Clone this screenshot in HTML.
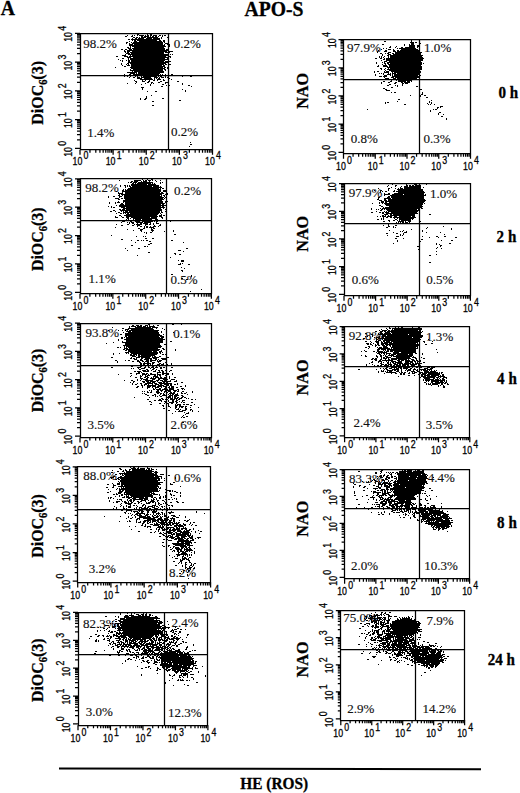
<!DOCTYPE html>
<html><head><meta charset="utf-8"><title>APO-S</title>
<style>html,body{margin:0;padding:0;background:#fff;}body{width:520px;height:793px;overflow:hidden;}svg{display:block;}</style>
</head><body>
<svg width="520" height="793" viewBox="0 0 520 793">
<rect width="520" height="793" fill="#fff"/>
<path d="M137 34h2M147 34h1M150 34h2M127 35h1M132 35h1M134 35h1M137 35h1M139 35h5M145 35h1M147 35h2M150 35h2M153 35h4M159 35h2M162 35h1M164 35h2M125 36h2M131 36h2M141 36h2M144 36h5M150 36h1M152 36h2M155 36h2M158 36h1M162 36h1M133 37h2M136 37h2M139 37h1M141 37h5M147 37h11M161 37h1M167 37h1M132 38h1M135 38h2M138 38h6M146 38h6M153 38h7M161 38h1M128 39h2M131 39h29M132 40h1M134 40h2M137 40h20M159 40h2M163 40h2M411 40h1M129 41h1M134 41h3M139 41h23M163 41h2M384 41h2M411 41h1M126 42h2M131 42h1M133 42h30M164 42h1M410 42h4M415 42h2M126 43h1M129 43h1M132 43h31M165 43h3M411 43h3M419 43h2M129 44h4M134 44h29M164 44h1M167 44h3M382 44h2M404 44h1M409 44h1M411 44h3M129 45h36M169 45h1M404 45h1M409 45h6M417 45h2M130 46h1M132 46h34M169 46h1M390 46h1M396 46h1M409 46h6M417 46h2M127 47h2M130 47h1M134 47h30M389 47h2M395 47h1M401 47h2M405 47h10M417 47h1M128 48h3M132 48h33M383 48h1M386 48h1M397 48h1M399 48h17M121 49h2M125 49h2M129 49h3M133 49h32M166 49h2M381 49h1M388 49h3M393 49h1M401 49h17M419 49h1M124 50h1M127 50h41M378 50h1M385 50h2M393 50h2M397 50h2M400 50h20M124 51h2M127 51h3M132 51h35M169 51h4M377 51h1M384 51h3M393 51h3M397 51h22M125 52h1M127 52h2M130 52h34M165 52h5M377 52h1M388 52h3M395 52h24M420 52h2M126 53h4M131 53h33M380 53h2M385 53h1M387 53h2M392 53h2M395 53h26M125 54h1M128 54h41M170 54h1M172 54h1M382 54h1M388 54h3M393 54h28M122 55h4M130 55h1M132 55h37M382 55h1M387 55h2M390 55h33M116 56h2M124 56h4M129 56h37M169 56h2M379 56h1M381 56h1M384 56h1M388 56h1M390 56h32M127 57h4M133 57h35M170 57h1M379 57h1M381 57h1M383 57h1M388 57h1M390 57h33M122 58h2M128 58h1M130 58h35M167 58h1M375 58h2M380 58h2M384 58h1M386 58h38M118 59h1M128 59h1M130 59h38M383 59h2M386 59h37M120 60h1M122 60h1M126 60h1M128 60h2M131 60h34M381 60h1M386 60h37M122 61h1M128 61h2M131 61h33M165 61h6M384 61h3M389 61h32M128 62h40M376 62h1M382 62h1M384 62h1M387 62h35M121 63h1M127 63h2M130 63h36M376 63h1M384 63h2M387 63h2M390 63h32M423 63h1M121 64h1M126 64h1M128 64h1M131 64h33M165 64h2M168 64h3M382 64h1M385 64h1M388 64h34M122 65h1M127 65h3M131 65h31M163 65h2M378 65h1M383 65h4M389 65h30M420 65h1M124 66h2M131 66h34M377 66h2M383 66h5M389 66h30M420 66h2M115 67h1M130 67h33M164 67h2M167 67h1M387 67h35M131 68h34M167 68h1M380 68h2M385 68h1M388 68h1M390 68h32M130 69h1M133 69h30M164 69h2M168 69h1M381 69h1M384 69h1M387 69h35M130 70h33M165 70h1M168 70h1M385 70h1M389 70h31M132 71h1M134 71h30M374 71h1M377 71h2M384 71h1M386 71h3M391 71h30M127 72h10M138 72h26M374 72h1M384 72h5M392 72h1M394 72h27M130 73h5M136 73h1M138 73h22M379 73h1M381 73h1M383 73h1M388 73h1M390 73h1M392 73h4M397 73h22M124 74h1M129 74h2M133 74h26M160 74h1M162 74h1M165 74h1M171 74h2M375 74h1M383 74h1M387 74h4M392 74h1M394 74h25M123 75h2M128 75h2M140 75h19M162 75h1M182 75h1M375 75h1M384 75h3M390 75h1M392 75h1M394 75h24M419 75h2M124 76h1M127 76h1M130 76h1M135 76h1M137 76h1M141 76h1M143 76h14M158 76h1M160 76h2M165 76h1M182 76h1M190 76h2M379 76h3M383 76h4M392 76h27M129 77h1M133 77h2M137 77h3M141 77h10M154 77h4M159 77h1M161 77h3M165 77h1M167 77h1M384 77h1M391 77h3M395 77h24M137 78h5M144 78h8M154 78h1M156 78h1M158 78h2M168 78h2M385 78h4M393 78h3M397 78h20M140 79h13M154 79h1M157 79h4M163 79h1M171 79h1M384 79h2M389 79h3M397 79h1M399 79h15M417 79h1M134 80h1M142 80h1M145 80h1M149 80h1M153 80h2M157 80h1M163 80h2M391 80h1M396 80h1M398 80h14M135 81h2M142 81h3M148 81h2M160 81h2M177 81h2M383 81h2M390 81h2M398 81h8M407 81h3M411 81h1M136 82h1M147 82h2M151 82h2M158 82h2M165 82h4M381 82h1M388 82h2M395 82h2M401 82h2M404 82h6M127 83h1M135 83h1M145 83h1M151 83h1M153 83h1M165 83h1M182 83h1M381 83h1M394 83h2M402 83h2M405 83h3M141 84h1M150 84h1M162 84h2M182 84h1M389 84h2M402 84h1M150 85h1M166 85h1M169 85h1M188 85h2M387 85h2M395 85h1M397 85h1M402 85h1M161 86h2M191 86h1M397 86h1M416 86h2M141 87h3M391 87h2M142 88h1M383 88h2M142 89h1M182 89h1M385 89h2M420 89h2M185 90h1M386 90h4M147 91h1M155 91h2M185 91h1M391 92h1M394 92h2M422 92h1M422 93h1M421 94h2M151 95h1M410 95h1M420 95h1M424 95h2M146 96h1M420 96h1M146 97h1M426 97h2M140 98h1M145 98h2M162 98h2M140 99h1M144 99h2M398 99h2M179 100h2M431 100h1M152 101h2M397 101h1M429 101h1M385 102h1M387 102h2M429 102h1M431 102h1M385 103h1M427 103h1M431 103h1M404 104h2M428 104h1M430 104h1M434 104h1M152 105h2M440 106h3M437 107h2M440 107h1M437 108h1M367 109h1M433 109h1M435 109h2M430 110h1M430 111h1M439 112h2M438 113h1M438 114h1M443 114h1M441 116h2M446 118h1M446 119h1M190 142h1M190 144h2M189 146h1M142 179h1M147 179h1M151 179h2M119 180h1M134 180h7M143 180h1M145 180h2M148 180h3M152 180h1M155 180h1M160 180h1M131 181h2M134 181h4M141 181h1M143 181h4M149 181h1M156 181h1M128 182h1M130 182h2M133 182h4M138 182h15M160 182h1M162 182h1M132 183h2M135 183h1M137 183h14M152 183h1M154 183h1M160 183h1M131 184h16M148 184h8M392 184h1M406 184h1M414 184h3M426 184h1M120 185h1M124 185h2M127 185h1M129 185h1M131 185h28M388 185h1M395 185h2M406 185h2M409 185h2M412 185h2M415 185h6M120 186h1M125 186h1M127 186h1M129 186h2M132 186h20M153 186h6M160 186h1M387 186h1M395 186h1M401 186h1M404 186h4M409 186h12M125 187h1M130 187h32M391 187h1M400 187h1M404 187h17M423 187h1M128 188h31M160 188h1M162 188h2M378 188h1M388 188h2M395 188h1M398 188h1M400 188h3M404 188h17M123 189h1M125 189h1M127 189h34M388 189h1M397 189h26M111 190h1M122 190h2M125 190h36M163 190h3M374 190h1M380 190h2M388 190h1M394 190h1M398 190h25M116 191h1M122 191h39M163 191h3M380 191h1M382 191h1M385 191h2M393 191h2M396 191h28M118 192h1M122 192h1M125 192h35M161 192h2M380 192h1M398 192h27M118 193h5M125 193h39M167 193h1M384 193h1M388 193h2M394 193h30M119 194h1M121 194h41M165 194h3M384 194h6M392 194h11M404 194h20M425 194h1M118 195h2M122 195h1M124 195h36M161 195h1M163 195h2M384 195h1M390 195h36M108 196h1M113 196h2M119 196h3M124 196h38M164 196h1M388 196h2M391 196h33M108 197h1M119 197h1M124 197h40M165 197h1M378 197h2M387 197h3M391 197h33M115 198h4M121 198h2M124 198h39M164 198h1M378 198h1M384 198h7M392 198h32M118 199h2M125 199h39M377 199h2M384 199h2M388 199h37M123 200h39M166 200h1M379 200h3M384 200h3M388 200h38M118 201h1M123 201h40M165 201h1M167 201h1M381 201h3M385 201h40M109 202h1M115 202h1M117 202h3M123 202h1M125 202h38M165 202h2M379 202h1M381 202h3M385 202h2M389 202h35M109 203h1M115 203h1M121 203h2M125 203h40M372 203h1M379 203h1M382 203h1M384 203h39M424 203h1M120 204h4M125 204h36M162 204h2M166 204h1M385 204h38M116 205h1M119 205h47M379 205h2M386 205h36M108 206h1M111 206h1M119 206h42M162 206h2M381 206h2M389 206h34M111 207h1M113 207h2M121 207h4M126 207h39M383 207h1M385 207h37M123 208h38M163 208h1M371 208h1M380 208h1M382 208h38M421 208h2M119 209h2M122 209h3M126 209h36M165 209h1M371 209h1M376 209h1M378 209h1M381 209h2M384 209h1M386 209h31M418 209h2M113 210h2M120 210h42M380 210h2M387 210h33M110 211h2M115 211h1M121 211h1M123 211h1M125 211h3M129 211h31M161 211h1M165 211h1M376 211h1M384 211h1M386 211h1M388 211h30M419 211h1M118 212h2M123 212h37M161 212h2M371 212h2M379 212h2M382 212h2M385 212h4M391 212h26M116 213h1M120 213h2M123 213h1M125 213h1M127 213h2M130 213h29M160 213h1M382 213h2M386 213h32M126 214h32M161 214h1M384 214h4M390 214h2M393 214h22M429 214h2M119 215h2M124 215h33M159 215h3M163 215h2M382 215h2M385 215h1M388 215h1M390 215h25M115 216h1M121 216h1M126 216h32M159 216h3M377 216h1M380 216h1M382 216h4M387 216h5M394 216h3M399 216h12M412 216h3M115 217h3M122 217h2M126 217h3M131 217h19M151 217h6M161 217h2M383 217h1M386 217h2M390 217h2M393 217h23M127 218h2M130 218h1M133 218h24M162 218h1M381 218h1M383 218h1M394 218h1M397 218h1M399 218h15M126 219h1M128 219h1M133 219h1M135 219h6M142 219h10M155 219h3M377 219h2M381 219h1M383 219h1M395 219h2M399 219h12M412 219h1M129 220h2M133 220h21M155 220h4M169 220h2M388 220h2M393 220h2M397 220h1M399 220h1M401 220h10M122 221h3M130 221h2M135 221h5M142 221h11M154 221h1M156 221h2M170 221h1M383 221h2M389 221h1M398 221h6M405 221h1M408 221h3M420 221h1M121 222h1M127 222h1M129 222h1M131 222h3M136 222h7M144 222h7M156 222h1M396 222h1M398 222h1M400 222h1M402 222h2M405 222h3M409 222h1M129 223h1M132 223h2M137 223h1M140 223h2M143 223h5M150 223h1M153 223h1M156 223h3M399 223h1M424 223h1M116 224h1M127 224h2M134 224h1M136 224h6M145 224h3M149 224h2M153 224h1M160 224h1M388 224h1M121 225h2M132 225h2M137 225h3M145 225h1M154 225h1M159 225h2M383 225h1M388 225h1M395 225h2M137 226h1M140 226h2M144 226h1M146 226h2M150 226h1M153 226h3M158 226h1M388 226h2M393 226h1M443 226h1M115 227h1M144 227h1M146 227h2M149 227h5M386 227h2M393 227h1M395 227h1M427 227h1M138 228h2M143 228h2M151 228h1M153 228h2M426 228h1M451 228h1M127 229h1M140 229h3M151 229h2M411 229h1M451 229h1M133 230h1M140 230h2M151 230h3M173 230h1M389 230h1M403 230h1M422 230h1M141 231h1M152 231h1M164 231h1M173 231h1M400 231h1M402 231h1M406 231h1M422 231h1M144 232h1M146 232h1M150 232h2M393 232h1M404 232h3M426 232h1M440 232h1M146 233h1M386 233h2M396 233h2M403 233h1M174 234h2M400 234h1M403 234h1M444 234h1M111 235h1M387 235h1M400 235h1M402 235h1M136 236h1M143 236h1M145 236h1M396 236h3M422 236h1M436 236h2M444 236h2M429 237h1M438 237h1M455 237h2M145 238h2M152 238h2M395 238h2M403 238h1M121 239h2M421 239h2M131 240h1M137 240h2M141 240h1M143 240h1M146 240h2M171 240h2M397 240h1M441 240h1M451 240h2M149 241h2M397 241h1M420 241h1M135 242h1M183 242h1M150 243h2M393 243h1M436 243h1M449 243h2M148 244h2M436 244h1M439 244h1M131 245h2M440 245h2M144 246h2M147 246h1M417 246h2M440 246h1M437 247h1M125 248h1M138 248h2M186 248h2M436 248h1M441 248h1M418 249h1M127 250h1M178 250h3M183 251h1M436 251h1M148 252h2M174 253h2M175 254h1M179 254h2M436 254h1M137 255h1M429 255h2M170 257h1M178 260h1M181 260h3M181 261h3M429 262h2M180 263h1M182 263h1M178 264h3M188 264h2M181 267h1M184 268h1M181 270h2M182 271h1M171 274h2M191 275h1M191 276h1M181 278h2M186 279h2M201 289h1M190 291h1M148 324h2M172 324h2M181 324h1M132 325h2M136 325h3M140 325h2M145 325h3M149 325h1M153 325h1M157 325h2M129 326h1M131 326h5M137 326h5M143 326h3M147 326h1M149 326h6M112 327h1M129 327h1M135 327h16M152 327h6M389 327h1M395 327h1M398 327h1M401 327h2M412 327h1M418 327h2M122 328h2M128 328h25M156 328h1M162 328h1M386 328h1M389 328h2M392 328h30M125 329h4M131 329h23M164 329h1M381 329h1M387 329h1M392 329h1M394 329h28M108 330h1M118 330h1M122 330h1M125 330h1M127 330h1M129 330h30M379 330h1M382 330h5M388 330h2M391 330h27M419 330h2M126 331h5M132 331h26M161 331h1M375 331h2M380 331h3M384 331h2M387 331h34M422 331h1M123 332h1M128 332h31M161 332h1M173 332h1M380 332h2M385 332h5M391 332h31M125 333h34M365 333h2M378 333h1M380 333h3M384 333h7M392 333h29M120 334h2M125 334h35M163 334h1M371 334h2M378 334h30M409 334h12M125 335h37M372 335h1M382 335h4M387 335h36M125 336h2M128 336h31M160 336h4M178 336h1M365 336h1M367 336h1M372 336h1M379 336h1M382 336h41M121 337h2M124 337h1M126 337h34M161 337h3M374 337h1M376 337h4M382 337h2M385 337h27M413 337h9M121 338h2M126 338h37M166 338h1M363 338h2M376 338h1M378 338h41M118 339h1M124 339h41M166 339h1M376 339h2M382 339h1M384 339h37M428 339h1M118 340h1M126 340h37M376 340h1M378 340h3M383 340h36M122 341h1M126 341h37M170 341h2M365 341h2M370 341h1M375 341h4M381 341h1M383 341h2M386 341h4M391 341h28M423 341h2M432 341h1M113 342h1M122 342h41M371 342h1M376 342h3M381 342h2M384 342h8M393 342h25M424 342h1M106 343h1M125 343h35M366 343h3M370 343h1M373 343h1M377 343h2M381 343h7M389 343h27M417 343h1M431 343h2M125 344h35M164 344h2M367 344h2M370 344h2M375 344h1M377 344h2M381 344h3M385 344h34M425 344h2M123 345h38M372 345h1M375 345h2M378 345h2M382 345h3M386 345h2M389 345h2M392 345h27M124 346h1M126 346h36M368 346h2M375 346h1M383 346h4M390 346h1M392 346h26M117 347h2M120 347h1M124 347h1M126 347h1M128 347h33M365 347h2M369 347h1M377 347h1M379 347h3M383 347h5M391 347h25M417 347h1M124 348h4M129 348h29M162 348h2M368 348h1M378 348h12M391 348h1M393 348h25M123 349h2M126 349h34M163 349h2M175 349h1M377 349h3M381 349h5M387 349h29M436 349h1M125 350h2M128 350h31M161 350h1M175 350h1M364 350h1M377 350h2M383 350h1M385 350h1M387 350h2M390 350h26M128 351h24M153 351h4M159 351h3M361 351h1M365 351h2M373 351h2M377 351h6M384 351h1M386 351h3M390 351h3M394 351h22M125 352h4M130 352h28M159 352h2M162 352h1M376 352h1M378 352h9M393 352h6M401 352h15M437 352h1M113 353h1M119 353h1M126 353h1M128 353h1M131 353h27M160 353h1M377 353h3M381 353h1M383 353h2M386 353h5M393 353h20M415 353h2M422 353h1M113 354h1M130 354h2M133 354h4M138 354h19M162 354h2M165 354h2M379 354h2M384 354h1M386 354h1M389 354h1M391 354h5M397 354h11M409 354h4M422 354h1M130 355h5M136 355h1M138 355h2M141 355h14M361 355h1M365 355h1M376 355h1M380 355h2M383 355h1M385 355h1M388 355h6M396 355h17M132 356h4M138 356h13M152 356h1M154 356h2M159 356h2M365 356h2M376 356h2M380 356h2M385 356h3M391 356h1M393 356h19M413 356h1M111 357h2M131 357h1M136 357h4M141 357h9M152 357h7M167 357h2M377 357h1M381 357h1M383 357h2M386 357h5M396 357h14M412 357h4M421 357h1M130 358h2M133 358h2M136 358h1M141 358h2M145 358h7M153 358h4M161 358h5M372 358h2M375 358h2M381 358h1M383 358h4M388 358h1M391 358h20M415 358h2M423 358h2M134 359h3M140 359h2M144 359h5M150 359h2M155 359h2M158 359h1M162 359h4M371 359h2M374 359h3M380 359h2M385 359h1M388 359h2M391 359h6M398 359h9M408 359h1M411 359h3M416 359h1M115 360h2M125 360h1M128 360h2M137 360h2M140 360h3M146 360h3M150 360h6M157 360h1M159 360h3M375 360h2M379 360h2M382 360h11M397 360h3M401 360h3M405 360h5M412 360h3M416 360h2M420 360h1M117 361h1M132 361h2M137 361h3M142 361h2M145 361h4M150 361h2M157 361h4M372 361h1M378 361h4M386 361h1M388 361h1M391 361h5M398 361h4M405 361h8M414 361h2M417 361h2M420 361h1M117 362h1M139 362h2M144 362h1M147 362h2M152 362h3M158 362h1M165 362h1M371 362h2M378 362h1M381 362h1M383 362h1M387 362h2M390 362h1M392 362h2M395 362h7M405 362h4M410 362h3M415 362h1M417 362h1M423 362h2M140 363h2M143 363h8M152 363h2M159 363h2M163 363h1M166 363h1M171 363h1M369 363h1M380 363h2M387 363h2M390 363h1M393 363h3M397 363h6M404 363h7M412 363h2M415 363h7M140 364h2M143 364h2M147 364h2M150 364h1M152 364h1M157 364h3M161 364h3M167 364h1M171 364h1M366 364h1M372 364h1M381 364h3M385 364h2M388 364h4M394 364h4M399 364h2M402 364h7M410 364h7M418 364h1M135 365h2M143 365h1M155 365h1M159 365h3M366 365h1M374 365h1M377 365h2M380 365h2M384 365h5M390 365h2M393 365h2M396 365h5M402 365h4M407 365h2M411 365h4M418 365h1M420 365h1M131 366h2M140 366h2M145 366h1M148 366h1M152 366h2M156 366h1M159 366h1M371 366h2M375 366h1M380 366h1M382 366h3M387 366h1M390 366h3M394 366h3M401 366h5M408 366h10M111 367h2M137 367h4M144 367h2M148 367h2M151 367h3M155 367h3M160 367h2M163 367h2M171 367h2M386 367h2M391 367h6M398 367h4M403 367h7M412 367h1M416 367h2M420 367h2M427 367h3M431 367h4M131 368h1M133 368h1M138 368h1M141 368h4M150 368h1M153 368h2M160 368h2M380 368h1M383 368h1M385 368h2M389 368h3M394 368h1M396 368h3M400 368h2M403 368h5M410 368h2M414 368h1M424 368h4M430 368h3M139 369h2M146 369h2M152 369h2M156 369h1M358 369h2M376 369h1M384 369h1M386 369h2M392 369h7M401 369h1M406 369h1M408 369h3M413 369h3M417 369h1M420 369h6M427 369h5M142 370h4M147 370h2M151 370h1M155 370h1M158 370h2M161 370h2M165 370h2M170 370h2M381 370h1M383 370h1M387 370h6M394 370h2M397 370h2M401 370h1M405 370h1M407 370h4M413 370h1M416 370h2M421 370h1M423 370h5M429 370h1M431 370h1M434 370h1M436 370h1M134 371h2M137 371h4M143 371h6M153 371h3M159 371h1M162 371h2M169 371h1M378 371h1M381 371h3M385 371h1M387 371h1M389 371h3M396 371h3M401 371h1M407 371h1M411 371h4M417 371h2M424 371h5M430 371h6M138 372h2M141 372h1M157 372h4M162 372h2M378 372h1M386 372h10M399 372h1M401 372h2M404 372h2M409 372h1M412 372h1M414 372h3M419 372h4M424 372h14M439 372h1M441 372h2M130 373h2M136 373h4M142 373h3M146 373h2M150 373h2M157 373h1M162 373h7M172 373h1M384 373h1M391 373h1M395 373h2M400 373h2M403 373h2M408 373h2M412 373h3M419 373h2M422 373h5M428 373h12M441 373h1M118 374h1M136 374h1M142 374h5M148 374h1M150 374h6M157 374h4M162 374h2M167 374h2M172 374h1M400 374h2M403 374h2M418 374h2M421 374h5M427 374h13M442 374h2M131 375h1M140 375h1M142 375h1M145 375h1M147 375h3M154 375h2M157 375h1M159 375h2M165 375h2M408 375h2M414 375h1M421 375h2M424 375h6M431 375h8M440 375h1M442 375h2M130 376h1M140 376h2M145 376h3M153 376h5M160 376h1M169 376h1M398 376h1M421 376h5M427 376h9M438 376h7M135 377h2M140 377h1M144 377h2M147 377h2M151 377h1M153 377h1M155 377h4M160 377h2M164 377h2M169 377h1M174 377h2M420 377h1M423 377h12M436 377h3M440 377h1M443 377h4M140 378h3M146 378h2M150 378h6M158 378h8M169 378h1M424 378h6M433 378h2M437 378h1M439 378h1M442 378h2M446 378h1M137 379h1M141 379h1M143 379h5M152 379h3M158 379h2M163 379h5M171 379h4M423 379h1M425 379h9M435 379h4M440 379h1M442 379h3M124 380h1M131 380h2M137 380h1M140 380h1M145 380h8M156 380h3M160 380h3M164 380h3M170 380h1M176 380h1M423 380h1M425 380h5M431 380h14M446 380h1M133 381h2M142 381h3M146 381h3M150 381h6M157 381h1M162 381h9M174 381h3M426 381h1M428 381h1M431 381h8M440 381h3M444 381h1M446 381h1M130 382h1M133 382h1M143 382h2M147 382h4M152 382h3M158 382h4M163 382h2M166 382h2M181 382h2M424 382h2M431 382h2M435 382h9M445 382h2M132 383h1M137 383h1M140 383h2M145 383h8M154 383h3M159 383h13M177 383h1M426 383h1M428 383h1M430 383h1M432 383h8M441 383h2M444 383h2M447 383h1M132 384h1M135 384h2M141 384h1M144 384h3M148 384h1M152 384h1M155 384h4M160 384h2M164 384h5M170 384h2M174 384h2M177 384h1M426 384h1M428 384h3M432 384h6M441 384h2M447 384h2M141 385h2M144 385h1M147 385h9M158 385h6M166 385h3M170 385h2M185 385h1M431 385h1M438 385h1M440 385h1M443 385h1M137 386h2M142 386h1M147 386h4M152 386h4M157 386h5M163 386h4M169 386h1M171 386h3M180 386h2M185 386h1M438 386h1M443 386h2M136 387h2M142 387h1M147 387h3M152 387h1M155 387h4M161 387h1M165 387h2M168 387h2M171 387h3M176 387h2M443 387h2M147 388h1M153 388h1M155 388h1M159 388h2M164 388h3M169 388h5M181 388h3M153 389h2M156 389h5M162 389h6M169 389h5M177 389h2M182 389h1M184 389h1M149 390h1M151 390h1M157 390h2M160 390h3M165 390h6M173 390h4M178 390h1M142 391h1M144 391h1M147 391h1M151 391h1M156 391h3M161 391h1M164 391h2M168 391h3M174 391h2M177 391h2M182 391h2M192 391h1M147 392h2M150 392h2M156 392h4M164 392h1M166 392h2M170 392h2M173 392h2M181 392h1M186 392h1M192 392h1M142 393h1M144 393h1M157 393h2M160 393h2M163 393h1M169 393h6M177 393h1M181 393h2M184 393h2M145 394h2M154 394h2M160 394h1M163 394h2M166 394h1M168 394h1M170 394h1M172 394h2M175 394h3M187 394h1M147 395h2M152 395h2M155 395h1M159 395h1M162 395h5M169 395h4M174 395h5M181 395h2M155 396h1M157 396h1M160 396h2M168 396h3M172 396h1M174 396h3M182 396h2M134 397h1M149 397h1M166 397h5M172 397h1M174 397h2M177 397h2M181 397h2M184 397h2M161 398h2M168 398h1M170 398h3M174 398h4M179 398h3M186 398h1M188 398h1M147 399h2M159 399h2M162 399h2M165 399h3M170 399h5M176 399h1M178 399h2M191 399h2M195 399h1M154 400h2M158 400h4M168 400h1M172 400h2M176 400h2M182 400h3M149 401h2M161 401h1M164 401h2M168 401h1M172 401h2M175 401h2M179 401h1M182 401h1M151 402h1M165 402h2M169 402h5M176 402h2M181 402h1M183 402h2M191 402h2M159 403h2M164 403h1M167 403h2M171 403h2M176 403h1M150 404h2M168 404h1M175 404h1M177 404h4M183 404h2M186 404h3M194 404h1M162 405h2M168 405h1M175 405h3M179 405h2M190 405h2M163 406h1M166 406h1M168 406h2M175 406h2M179 406h5M185 406h2M170 407h1M175 407h2M179 407h1M181 407h2M185 407h1M190 407h1M198 407h1M163 408h2M175 408h1M178 408h1M185 408h2M176 409h3M180 409h1M185 409h2M190 409h2M168 410h2M179 410h1M182 410h4M190 410h1M192 410h1M166 411h1M175 411h1M178 411h5M192 411h1M198 411h1M184 412h1M188 412h1M172 413h1M186 413h3M185 414h1M183 415h1M182 416h1M186 416h2M181 417h1M183 417h2M194 421h2M182 422h2M130 467h1M133 467h2M138 467h1M147 467h1M119 468h2M131 468h5M137 468h2M140 468h5M147 468h3M151 468h1M120 469h2M125 469h1M129 469h2M132 469h13M146 469h1M148 469h2M151 469h3M156 469h1M112 470h1M123 470h1M125 470h2M129 470h1M132 470h20M381 470h2M402 470h1M404 470h2M407 470h5M415 470h1M417 470h2M422 470h2M117 471h2M122 471h2M126 471h28M155 471h2M358 471h2M380 471h2M399 471h13M413 471h11M111 472h2M124 472h1M126 472h26M154 472h4M375 472h2M381 472h1M386 472h1M388 472h1M390 472h1M392 472h2M396 472h2M399 472h7M407 472h17M104 473h1M119 473h35M155 473h2M375 473h2M380 473h1M389 473h1M391 473h1M395 473h1M397 473h28M115 474h2M120 474h1M122 474h1M124 474h33M160 474h4M384 474h1M390 474h2M397 474h24M422 474h5M122 475h2M125 475h33M168 475h2M380 475h2M383 475h2M387 475h2M391 475h1M398 475h28M427 475h1M113 476h2M120 476h2M124 476h30M155 476h7M377 476h1M379 476h3M383 476h1M386 476h2M391 476h2M394 476h2M398 476h11M410 476h7M418 476h9M110 477h4M118 477h41M161 477h1M175 477h1M380 477h3M386 477h4M391 477h2M396 477h1M398 477h29M433 477h1M104 478h1M111 478h1M117 478h2M120 478h40M161 478h1M164 478h1M175 478h1M370 478h1M377 478h1M385 478h2M388 478h2M394 478h3M398 478h18M417 478h11M115 479h2M118 479h2M121 479h36M158 479h2M373 479h2M382 479h2M385 479h3M396 479h1M398 479h28M120 480h40M164 480h1M372 480h1M374 480h2M382 480h3M388 480h1M391 480h2M395 480h1M397 480h11M409 480h17M118 481h1M120 481h38M362 481h1M368 481h1M371 481h1M375 481h3M379 481h1M384 481h1M388 481h1M390 481h1M394 481h33M119 482h1M121 482h42M173 482h2M366 482h3M375 482h1M378 482h1M383 482h5M389 482h1M393 482h3M397 482h30M112 483h1M117 483h3M121 483h39M170 483h1M353 483h1M375 483h1M378 483h3M382 483h10M394 483h31M426 483h2M107 484h2M113 484h1M117 484h3M121 484h40M170 484h3M354 484h2M369 484h1M378 484h5M384 484h2M388 484h3M393 484h6M400 484h25M113 485h3M121 485h2M124 485h34M359 485h2M373 485h2M378 485h1M381 485h1M384 485h4M389 485h3M393 485h29M423 485h1M113 486h1M118 486h41M180 486h1M353 486h1M359 486h1M364 486h2M376 486h3M381 486h1M384 486h6M391 486h1M394 486h30M106 487h2M112 487h2M121 487h1M123 487h1M125 487h32M158 487h1M160 487h1M353 487h1M363 487h2M378 487h3M386 487h4M393 487h12M406 487h19M117 488h1M119 488h1M121 488h37M159 488h2M367 488h1M373 488h5M379 488h2M386 488h2M390 488h34M429 488h2M108 489h1M116 489h1M119 489h39M165 489h2M375 489h1M381 489h4M386 489h3M390 489h29M420 489h2M119 490h2M122 490h2M125 490h33M159 490h1M167 490h4M172 490h1M363 490h2M377 490h2M380 490h3M384 490h2M387 490h1M390 490h1M392 490h1M394 490h25M420 490h4M431 490h2M110 491h1M119 491h4M125 491h34M169 491h2M172 491h1M174 491h2M354 491h1M371 491h1M373 491h3M382 491h1M384 491h2M387 491h1M391 491h1M393 491h26M420 491h1M425 491h1M107 492h2M118 492h4M124 492h28M153 492h1M165 492h1M176 492h2M180 492h1M354 492h1M373 492h8M382 492h1M384 492h2M387 492h4M393 492h28M116 493h1M118 493h3M124 493h1M126 493h24M151 493h4M170 493h1M180 493h1M354 493h1M373 493h1M377 493h2M382 493h7M394 493h25M420 493h1M422 493h1M424 493h2M113 494h2M116 494h2M121 494h2M124 494h28M153 494h5M159 494h1M170 494h2M377 494h2M382 494h4M388 494h2M392 494h1M394 494h23M119 495h1M121 495h2M126 495h1M128 495h1M130 495h23M159 495h1M165 495h1M171 495h1M173 495h2M180 495h1M354 495h2M366 495h2M373 495h1M376 495h2M379 495h5M385 495h2M389 495h26M426 495h1M429 495h1M115 496h1M119 496h1M124 496h1M126 496h3M131 496h22M160 496h1M163 496h1M165 496h2M180 496h1M362 496h1M372 496h1M378 496h2M381 496h1M390 496h3M394 496h1M397 496h17M417 496h1M419 496h1M427 496h1M436 496h1M108 497h1M110 497h2M122 497h3M126 497h6M133 497h11M145 497h3M151 497h2M154 497h2M159 497h2M163 497h1M165 497h2M171 497h1M370 497h5M379 497h4M388 497h4M396 497h19M419 497h1M108 498h1M110 498h1M113 498h1M128 498h2M132 498h4M139 498h9M153 498h1M156 498h1M159 498h2M174 498h1M176 498h1M373 498h1M380 498h1M382 498h2M385 498h1M387 498h2M390 498h1M395 498h21M425 498h1M430 498h1M117 499h1M119 499h3M127 499h1M130 499h2M133 499h10M144 499h4M151 499h1M153 499h2M156 499h1M165 499h1M168 499h2M172 499h1M176 499h1M356 499h2M368 499h1M373 499h1M376 499h1M380 499h3M384 499h9M394 499h22M420 499h2M425 499h1M430 499h1M109 500h1M121 500h1M127 500h1M129 500h3M133 500h2M141 500h5M148 500h1M151 500h3M157 500h2M162 500h2M376 500h1M379 500h1M383 500h2M386 500h4M391 500h4M398 500h7M406 500h5M426 500h2M109 501h1M116 501h4M122 501h1M124 501h2M128 501h1M130 501h2M133 501h1M137 501h2M140 501h2M145 501h1M150 501h5M157 501h1M164 501h1M176 501h2M381 501h6M388 501h10M399 501h12M113 502h1M116 502h2M124 502h3M128 502h1M131 502h2M138 502h2M146 502h1M148 502h3M152 502h2M155 502h1M158 502h1M165 502h2M170 502h2M177 502h2M182 502h2M367 502h1M375 502h3M380 502h3M385 502h2M388 502h4M394 502h1M397 502h15M121 503h1M125 503h7M134 503h2M138 503h1M141 503h1M146 503h4M155 503h1M158 503h2M163 503h1M165 503h2M380 503h7M389 503h3M394 503h10M405 503h6M412 503h2M415 503h1M419 503h2M427 503h2M441 503h1M120 504h1M128 504h3M143 504h2M155 504h1M158 504h1M160 504h2M167 504h1M358 504h2M372 504h1M374 504h1M376 504h4M382 504h4M389 504h2M392 504h6M401 504h2M405 504h7M413 504h2M420 504h2M121 505h1M126 505h1M130 505h1M133 505h2M136 505h1M142 505h2M145 505h1M152 505h4M159 505h1M168 505h2M171 505h2M379 505h1M382 505h3M389 505h5M395 505h3M400 505h10M411 505h2M416 505h1M420 505h2M424 505h2M431 505h4M114 506h1M120 506h1M123 506h1M126 506h1M128 506h3M137 506h1M142 506h1M145 506h1M148 506h5M154 506h1M156 506h2M161 506h2M164 506h1M172 506h1M375 506h1M377 506h3M381 506h2M386 506h2M391 506h4M396 506h7M404 506h6M412 506h1M416 506h1M419 506h1M425 506h1M430 506h1M433 506h2M441 506h1M116 507h1M123 507h1M128 507h3M136 507h1M139 507h3M144 507h2M147 507h2M152 507h3M158 507h1M162 507h1M169 507h1M356 507h1M364 507h1M371 507h2M379 507h1M383 507h1M387 507h3M392 507h3M396 507h2M399 507h1M401 507h1M405 507h5M411 507h6M420 507h3M424 507h2M427 507h2M430 507h6M441 507h1M113 508h1M116 508h1M123 508h2M126 508h1M134 508h1M136 508h1M139 508h1M141 508h7M149 508h2M154 508h4M160 508h1M164 508h1M167 508h1M169 508h1M364 508h1M372 508h1M383 508h1M385 508h3M390 508h7M398 508h3M402 508h9M412 508h4M420 508h8M430 508h3M434 508h5M113 509h1M125 509h1M132 509h1M134 509h2M137 509h1M139 509h6M147 509h2M150 509h3M154 509h1M156 509h3M162 509h3M368 509h1M383 509h1M391 509h2M395 509h3M399 509h3M403 509h2M406 509h5M412 509h4M418 509h1M420 509h13M435 509h1M439 509h1M121 510h2M126 510h6M138 510h5M146 510h4M151 510h1M153 510h2M156 510h1M162 510h1M167 510h1M392 510h4M397 510h1M399 510h1M401 510h1M404 510h1M406 510h3M410 510h1M415 510h1M418 510h8M428 510h12M442 510h1M126 511h1M131 511h1M133 511h5M139 511h1M141 511h3M147 511h2M152 511h5M171 511h1M196 511h1M384 511h1M391 511h2M400 511h3M404 511h3M408 511h1M410 511h1M412 511h1M415 511h2M419 511h9M429 511h14M447 511h1M124 512h2M134 512h1M137 512h2M141 512h2M147 512h2M152 512h4M158 512h1M161 512h2M168 512h6M196 512h1M371 512h1M378 512h1M381 512h1M384 512h1M393 512h2M396 512h4M402 512h2M408 512h1M410 512h1M412 512h1M414 512h10M425 512h3M429 512h15M125 513h1M128 513h1M130 513h1M136 513h9M147 513h1M153 513h1M156 513h4M162 513h1M164 513h1M166 513h1M169 513h2M204 513h1M381 513h1M389 513h1M405 513h1M409 513h1M413 513h2M416 513h3M421 513h25M132 514h1M135 514h3M139 514h2M144 514h1M146 514h3M150 514h1M153 514h1M156 514h1M158 514h1M160 514h1M162 514h1M164 514h1M166 514h1M378 514h2M382 514h2M389 514h1M403 514h1M405 514h2M412 514h1M414 514h1M419 514h1M421 514h11M433 514h8M443 514h6M131 515h1M134 515h1M137 515h5M145 515h3M152 515h1M154 515h2M157 515h1M159 515h1M164 515h2M171 515h4M179 515h1M399 515h1M405 515h1M408 515h1M413 515h2M420 515h1M422 515h8M431 515h5M437 515h4M442 515h6M104 516h1M120 516h1M128 516h1M135 516h1M139 516h7M147 516h3M152 516h2M156 516h3M160 516h1M162 516h1M164 516h2M168 516h1M173 516h3M185 516h1M413 516h2M420 516h9M430 516h3M434 516h2M437 516h1M440 516h9M128 517h1M132 517h1M135 517h1M139 517h12M153 517h5M160 517h2M167 517h2M172 517h1M176 517h3M185 517h1M400 517h1M403 517h2M410 517h1M414 517h2M422 517h8M431 517h3M435 517h13M449 517h1M126 518h1M130 518h2M137 518h3M143 518h12M158 518h4M164 518h4M170 518h5M410 518h1M422 518h20M443 518h9M136 519h2M139 519h1M147 519h9M157 519h6M164 519h2M167 519h2M171 519h1M173 519h2M189 519h1M417 519h1M421 519h5M427 519h16M445 519h4M129 520h1M136 520h1M144 520h7M152 520h7M160 520h8M169 520h3M173 520h2M179 520h1M184 520h2M187 520h2M417 520h2M421 520h1M423 520h1M426 520h9M436 520h14M451 520h2M119 521h1M127 521h1M129 521h2M136 521h1M140 521h1M143 521h3M147 521h2M150 521h1M152 521h4M157 521h2M161 521h3M165 521h1M169 521h2M173 521h2M186 521h2M421 521h2M424 521h6M431 521h1M433 521h1M435 521h15M136 522h1M138 522h3M143 522h2M147 522h1M149 522h2M152 522h1M156 522h1M158 522h9M168 522h5M174 522h1M176 522h1M178 522h2M190 522h1M193 522h2M421 522h1M426 522h1M428 522h11M441 522h12M142 523h2M147 523h2M154 523h1M156 523h2M160 523h5M166 523h2M169 523h2M172 523h7M183 523h1M190 523h1M425 523h26M142 524h1M145 524h1M150 524h3M154 524h6M161 524h10M172 524h2M176 524h2M179 524h2M183 524h3M189 524h1M192 524h1M428 524h23M141 525h2M145 525h1M153 525h6M160 525h1M162 525h1M164 525h1M166 525h3M170 525h2M174 525h9M184 525h2M191 525h1M195 525h2M431 525h2M434 525h15M451 525h1M129 526h1M135 526h1M144 526h2M147 526h4M158 526h3M162 526h2M166 526h1M174 526h3M178 526h6M431 526h1M433 526h2M436 526h14M451 526h1M147 527h1M150 527h1M157 527h7M166 527h8M176 527h2M179 527h1M183 527h1M185 527h1M432 527h2M435 527h5M441 527h4M446 527h3M156 528h1M159 528h1M161 528h2M164 528h1M166 528h3M170 528h1M173 528h2M176 528h4M181 528h6M193 528h1M433 528h1M436 528h1M438 528h3M442 528h5M131 529h1M150 529h2M156 529h1M158 529h2M162 529h4M167 529h1M169 529h2M172 529h8M181 529h2M185 529h2M189 529h2M193 529h1M433 529h3M438 529h2M442 529h2M158 530h1M162 530h3M166 530h1M169 530h7M177 530h4M184 530h1M186 530h4M198 530h1M438 530h1M138 531h2M155 531h1M158 531h1M166 531h5M173 531h2M177 531h5M183 531h6M191 531h1M195 531h1M200 531h2M447 531h1M150 532h2M154 532h1M160 532h1M163 532h1M167 532h6M175 532h2M180 532h10M195 532h1M159 533h3M164 533h2M168 533h4M173 533h2M176 533h5M182 533h7M190 533h1M199 533h1M162 534h2M171 534h4M176 534h13M190 534h1M163 535h2M168 535h3M172 535h1M176 535h10M187 535h4M192 535h1M159 536h2M165 536h1M167 536h2M170 536h3M175 536h4M181 536h6M188 536h2M191 536h2M167 537h1M169 537h6M177 537h3M181 537h4M189 537h4M197 537h4M166 538h1M171 538h3M175 538h8M184 538h2M187 538h2M190 538h3M195 538h1M198 538h1M163 539h2M167 539h1M174 539h3M178 539h6M186 539h2M192 539h2M168 540h4M178 540h11M190 540h4M177 541h14M162 542h2M177 542h2M181 542h3M185 542h7M194 542h2M172 543h18M191 543h1M173 544h11M185 544h5M162 545h1M168 545h2M175 545h11M187 545h6M163 546h2M168 546h1M173 546h2M180 546h7M189 546h1M170 547h1M173 547h1M175 547h4M181 547h3M185 547h2M188 547h2M172 548h1M175 548h5M181 548h2M184 548h1M186 548h2M189 548h2M194 548h1M170 549h2M176 549h6M184 549h8M173 550h2M177 550h2M180 550h2M184 550h1M186 550h7M172 551h1M174 551h1M177 551h2M180 551h4M185 551h3M189 551h1M194 551h1M178 552h2M182 552h4M191 552h1M194 552h1M178 553h1M181 553h6M194 553h1M176 554h12M189 554h1M191 554h1M169 555h1M177 555h3M183 555h1M185 555h1M187 555h1M189 555h1M191 555h1M174 556h1M177 556h1M182 556h2M187 556h1M172 557h1M182 557h1M184 557h2M189 557h2M175 558h3M182 558h5M188 558h1M180 559h1M182 559h3M186 559h3M180 560h3M188 560h2M173 561h2M180 561h2M189 561h1M179 562h1M181 562h1M185 562h2M189 562h2M178 563h1M181 563h1M185 563h1M191 563h1M194 563h2M185 564h2M191 564h1M193 564h1M175 565h2M182 565h1M185 565h1M190 565h2M193 565h1M182 566h1M185 566h1M189 566h1M192 566h1M185 567h2M189 567h3M194 567h1M185 568h1M187 568h4M193 568h2M187 569h1M190 569h1M183 570h2M188 570h2M181 571h1M188 571h1M183 572h1M187 572h1M179 573h2M192 573h1M187 574h1M187 575h1M181 576h1M188 578h1M375 612h1M381 612h2M385 612h1M389 612h2M120 613h1M127 613h1M131 613h1M134 613h1M143 613h1M146 613h1M371 613h1M381 613h1M384 613h2M120 614h1M131 614h1M136 614h3M141 614h3M145 614h2M149 614h2M374 614h1M376 614h2M380 614h2M383 614h1M386 614h3M125 615h3M129 615h5M138 615h3M142 615h2M145 615h2M149 615h2M152 615h1M369 615h3M374 615h6M381 615h1M384 615h1M388 615h2M105 616h2M115 616h1M118 616h1M124 616h5M131 616h19M155 616h2M365 616h2M369 616h1M371 616h5M377 616h1M388 616h4M394 616h3M408 616h1M412 616h1M118 617h1M124 617h34M366 617h1M370 617h3M374 617h1M377 617h5M383 617h3M388 617h1M399 617h1M402 617h1M404 617h1M406 617h1M408 617h2M120 618h5M126 618h34M364 618h1M366 618h1M368 618h13M382 618h1M384 618h2M388 618h1M390 618h1M397 618h1M400 618h1M402 618h8M411 618h1M115 619h2M120 619h34M156 619h1M365 619h1M370 619h2M374 619h2M377 619h1M379 619h3M383 619h3M388 619h2M397 619h2M400 619h12M414 619h2M118 620h3M123 620h37M366 620h2M371 620h1M373 620h7M382 620h1M384 620h1M386 620h4M395 620h20M112 621h1M115 621h2M119 621h39M159 621h3M164 621h1M167 621h1M371 621h6M378 621h1M380 621h2M384 621h1M387 621h2M392 621h27M120 622h43M371 622h2M374 622h3M378 622h1M380 622h5M387 622h2M392 622h25M418 622h2M103 623h1M110 623h1M112 623h1M115 623h6M122 623h35M158 623h4M164 623h1M360 623h2M366 623h4M374 623h1M376 623h3M380 623h2M383 623h1M385 623h4M390 623h1M392 623h29M114 624h1M117 624h2M120 624h40M168 624h1M364 624h2M369 624h1M375 624h2M378 624h1M380 624h6M390 624h30M105 625h4M114 625h1M117 625h2M120 625h40M162 625h2M367 625h1M372 625h2M375 625h2M381 625h3M386 625h3M390 625h30M112 626h4M117 626h3M121 626h41M164 626h2M362 626h2M368 626h1M371 626h3M375 626h4M380 626h1M382 626h7M390 626h29M98 627h1M100 627h1M109 627h1M112 627h3M118 627h43M162 627h2M165 627h5M175 627h1M372 627h1M374 627h5M381 627h2M387 627h3M391 627h29M103 628h2M107 628h1M115 628h1M117 628h49M168 628h1M177 628h2M359 628h2M375 628h1M380 628h2M387 628h2M390 628h28M106 629h1M118 629h3M122 629h35M158 629h1M161 629h1M163 629h1M172 629h1M174 629h3M180 629h2M185 629h1M372 629h1M378 629h2M381 629h1M385 629h1M387 629h4M392 629h30M97 630h1M100 630h1M104 630h1M109 630h1M117 630h44M162 630h2M171 630h3M365 630h1M372 630h1M374 630h5M383 630h2M386 630h4M393 630h27M97 631h1M108 631h2M111 631h2M114 631h2M119 631h1M123 631h40M165 631h2M170 631h2M173 631h1M175 631h2M179 631h2M370 631h1M372 631h1M374 631h1M376 631h3M382 631h3M386 631h31M418 631h4M110 632h3M116 632h2M119 632h2M122 632h41M166 632h1M172 632h2M179 632h2M368 632h2M373 632h2M376 632h3M382 632h1M384 632h1M388 632h1M390 632h28M108 633h1M116 633h47M166 633h1M174 633h2M178 633h1M361 633h2M364 633h1M368 633h1M372 633h3M377 633h2M382 633h1M384 633h31M417 633h1M95 634h2M113 634h2M116 634h1M118 634h2M121 634h1M123 634h36M160 634h4M165 634h3M174 634h1M176 634h1M187 634h2M366 634h2M370 634h1M372 634h2M377 634h6M386 634h5M392 634h22M420 634h1M98 635h2M102 635h2M107 635h1M109 635h1M113 635h5M120 635h34M155 635h2M158 635h1M161 635h3M166 635h2M171 635h2M178 635h1M187 635h1M369 635h2M378 635h4M385 635h8M394 635h1M396 635h12M409 635h3M413 635h1M420 635h1M90 636h2M97 636h2M103 636h1M106 636h3M110 636h2M113 636h1M116 636h10M128 636h25M155 636h3M161 636h5M168 636h1M171 636h2M174 636h2M359 636h1M366 636h1M375 636h1M377 636h3M383 636h3M387 636h16M404 636h2M407 636h1M409 636h1M411 636h2M110 637h2M118 637h2M121 637h6M129 637h23M153 637h1M156 637h2M159 637h3M164 637h5M173 637h2M176 637h2M180 637h1M186 637h1M365 637h1M371 637h2M374 637h1M377 637h5M383 637h1M385 637h9M395 637h14M410 637h2M413 637h1M415 637h1M418 637h3M89 638h1M104 638h1M107 638h2M110 638h1M115 638h6M123 638h2M126 638h1M128 638h1M130 638h2M133 638h8M142 638h9M152 638h3M156 638h1M158 638h2M161 638h1M165 638h1M167 638h3M171 638h9M365 638h1M371 638h2M375 638h2M378 638h1M380 638h11M393 638h1M395 638h1M397 638h7M405 638h5M412 638h2M96 639h1M103 639h2M109 639h1M119 639h2M122 639h2M125 639h2M128 639h3M132 639h14M149 639h3M153 639h2M156 639h1M158 639h5M164 639h1M166 639h2M169 639h5M176 639h3M182 639h1M370 639h2M373 639h3M381 639h3M385 639h6M393 639h1M395 639h12M409 639h5M417 639h1M419 639h1M95 640h2M98 640h1M107 640h3M116 640h4M123 640h1M125 640h3M129 640h7M137 640h1M140 640h3M144 640h2M147 640h2M150 640h3M154 640h3M158 640h3M162 640h6M173 640h2M177 640h1M364 640h1M371 640h5M377 640h11M390 640h2M393 640h15M409 640h6M95 641h2M98 641h1M109 641h1M112 641h2M118 641h1M120 641h2M125 641h3M129 641h1M131 641h3M135 641h2M139 641h9M151 641h3M155 641h1M159 641h1M164 641h3M169 641h1M171 641h1M173 641h1M176 641h1M182 641h2M379 641h3M386 641h3M390 641h13M404 641h8M414 641h1M423 641h2M111 642h1M113 642h1M117 642h3M121 642h3M125 642h1M127 642h1M129 642h3M133 642h3M138 642h2M141 642h2M144 642h2M149 642h1M151 642h3M155 642h1M157 642h1M159 642h3M163 642h1M169 642h5M175 642h2M183 642h1M185 642h2M368 642h1M374 642h2M377 642h1M382 642h6M389 642h2M392 642h1M394 642h3M398 642h11M411 642h4M418 642h1M427 642h2M109 643h2M113 643h3M119 643h1M121 643h1M123 643h2M127 643h1M129 643h9M139 643h3M143 643h2M146 643h7M155 643h1M157 643h3M162 643h2M167 643h2M170 643h1M174 643h2M180 643h2M370 643h1M380 643h6M387 643h3M392 643h5M398 643h4M403 643h6M410 643h5M418 643h1M435 643h2M110 644h1M112 644h1M115 644h1M117 644h5M123 644h8M134 644h4M140 644h4M145 644h13M159 644h3M166 644h5M175 644h1M178 644h2M193 644h1M358 644h2M366 644h1M371 644h2M379 644h1M382 644h4M387 644h3M391 644h16M408 644h2M412 644h1M414 644h1M418 644h1M422 644h1M429 644h1M108 645h1M115 645h3M120 645h1M122 645h2M125 645h2M128 645h4M133 645h7M141 645h7M150 645h1M152 645h5M159 645h3M164 645h1M166 645h1M168 645h2M172 645h3M176 645h2M193 645h1M376 645h1M378 645h4M383 645h1M386 645h4M391 645h14M406 645h5M412 645h3M416 645h1M420 645h1M422 645h1M429 645h5M435 645h1M112 646h2M117 646h3M121 646h8M130 646h5M136 646h6M144 646h1M146 646h8M156 646h3M160 646h1M162 646h4M167 646h2M171 646h1M176 646h2M187 646h1M366 646h1M371 646h1M379 646h1M382 646h7M390 646h1M392 646h3M396 646h11M409 646h2M412 646h3M416 646h4M421 646h8M430 646h2M433 646h2M437 646h1M441 646h1M111 647h1M117 647h2M121 647h1M124 647h1M127 647h1M129 647h5M136 647h3M140 647h1M143 647h2M146 647h3M151 647h12M165 647h3M169 647h2M186 647h2M374 647h1M376 647h1M379 647h2M383 647h3M387 647h9M397 647h15M413 647h2M417 647h7M425 647h5M440 647h1M113 648h1M121 648h3M132 648h2M138 648h2M142 648h3M147 648h4M152 648h2M156 648h4M161 648h5M167 648h2M170 648h1M172 648h2M186 648h1M372 648h2M375 648h1M378 648h1M382 648h1M384 648h1M386 648h1M388 648h2M392 648h2M395 648h3M399 648h3M403 648h3M407 648h1M409 648h5M415 648h3M419 648h2M422 648h10M435 648h2M113 649h1M121 649h3M126 649h1M128 649h2M134 649h1M137 649h1M139 649h1M141 649h2M144 649h3M148 649h3M152 649h1M155 649h8M166 649h2M169 649h1M171 649h1M173 649h2M178 649h2M185 649h2M372 649h4M379 649h2M382 649h2M386 649h1M392 649h1M395 649h6M402 649h6M409 649h1M411 649h21M433 649h1M438 649h1M104 650h1M119 650h2M126 650h2M129 650h1M135 650h3M139 650h1M143 650h10M154 650h6M161 650h2M167 650h5M175 650h5M192 650h1M194 650h2M376 650h2M379 650h1M383 650h1M387 650h4M392 650h6M399 650h8M410 650h18M429 650h1M431 650h5M437 650h2M440 650h2M95 651h2M117 651h1M119 651h1M121 651h2M127 651h1M129 651h2M143 651h4M148 651h6M159 651h2M163 651h1M165 651h3M169 651h12M183 651h1M189 651h2M363 651h1M378 651h2M383 651h1M385 651h2M392 651h2M398 651h3M402 651h1M405 651h3M409 651h19M429 651h7M438 651h4M443 651h1M117 652h3M130 652h1M132 652h2M136 652h3M142 652h1M144 652h5M150 652h1M152 652h3M158 652h2M161 652h1M164 652h12M177 652h6M184 652h1M187 652h2M370 652h1M376 652h2M379 652h2M386 652h2M391 652h1M394 652h1M398 652h7M407 652h2M411 652h9M422 652h7M430 652h6M437 652h4M443 652h1M94 653h2M118 653h1M126 653h3M134 653h1M138 653h1M141 653h7M149 653h1M151 653h2M154 653h5M160 653h4M165 653h13M179 653h4M184 653h5M361 653h2M369 653h1M385 653h2M388 653h3M394 653h2M397 653h4M402 653h1M404 653h1M407 653h22M431 653h4M436 653h5M126 654h1M130 654h1M134 654h1M136 654h1M143 654h1M147 654h1M152 654h3M159 654h2M162 654h10M173 654h9M183 654h5M376 654h1M392 654h1M394 654h8M404 654h1M409 654h2M412 654h15M428 654h13M442 654h3M109 655h2M118 655h2M125 655h1M130 655h3M135 655h2M141 655h1M147 655h2M150 655h1M154 655h2M157 655h2M160 655h27M188 655h2M392 655h1M396 655h7M406 655h5M412 655h7M420 655h23M136 656h3M143 656h1M147 656h3M152 656h2M156 656h2M159 656h1M161 656h18M180 656h11M192 656h1M372 656h4M389 656h1M396 656h3M406 656h1M411 656h10M422 656h2M425 656h17M443 656h2M447 656h2M133 657h2M136 657h1M138 657h1M142 657h2M145 657h2M149 657h2M152 657h2M156 657h1M158 657h6M165 657h27M373 657h2M389 657h2M393 657h2M401 657h1M403 657h3M407 657h1M411 657h2M414 657h29M128 658h2M136 658h1M141 658h3M150 658h4M156 658h1M160 658h34M395 658h1M397 658h1M405 658h3M409 658h1M413 658h27M441 658h1M444 658h3M127 659h2M130 659h2M139 659h1M154 659h1M156 659h2M159 659h1M161 659h32M367 659h2M390 659h2M396 659h1M407 659h1M409 659h1M411 659h2M414 659h25M440 659h4M125 660h1M135 660h1M142 660h2M147 660h2M151 660h1M154 660h1M157 660h3M161 660h30M192 660h2M381 660h1M390 660h1M394 660h2M399 660h1M401 660h1M410 660h3M414 660h11M426 660h18M445 660h1M125 661h1M143 661h2M146 661h2M154 661h3M161 661h10M172 661h22M195 661h2M397 661h2M404 661h1M412 661h3M417 661h26M141 662h1M147 662h3M154 662h4M159 662h1M161 662h2M165 662h1M167 662h27M195 662h1M397 662h1M399 662h1M412 662h1M414 662h26M442 662h2M122 663h1M148 663h1M153 663h2M161 663h7M169 663h3M173 663h23M414 663h1M421 663h9M431 663h9M155 664h2M160 664h12M173 664h5M179 664h15M378 664h1M407 664h2M415 664h1M418 664h2M423 664h2M426 664h13M160 665h22M183 665h8M193 665h4M411 665h2M415 665h1M421 665h7M429 665h5M435 665h3M137 666h1M148 666h2M162 666h2M165 666h22M188 666h2M193 666h1M202 666h1M424 666h1M426 666h2M430 666h4M435 666h2M145 667h2M148 667h1M157 667h1M162 667h2M166 667h4M172 667h18M192 667h1M195 667h1M426 667h1M428 667h2M431 667h2M435 667h1M141 668h2M150 668h1M157 668h2M163 668h2M166 668h2M171 668h10M182 668h11M195 668h3M428 668h2M157 669h1M159 669h2M165 669h2M168 669h3M172 669h9M182 669h1M184 669h4M192 669h1M156 670h2M166 670h4M172 670h4M177 670h10M188 670h1M430 670h1M167 671h1M174 671h5M180 671h5M186 671h2M190 671h2M198 671h1M175 672h3M180 672h1M185 672h1M188 672h2M198 672h1M424 672h2M157 673h1M176 673h1M181 673h7M141 674h1M169 674h1M174 674h1M181 674h1M183 674h5M190 674h4M141 675h1M169 675h2M173 675h2M179 675h3M183 675h3M187 675h1M205 675h1M421 675h1M172 676h1M179 676h1M182 676h1M187 676h1M205 676h1M164 677h1M179 677h2M183 677h1M187 677h1M191 677h2M172 678h1M193 678h1M178 679h1M180 679h1M182 679h1M193 679h1M169 680h1M177 680h2M180 680h4M186 680h2M189 680h1M165 682h1M196 682h2M165 683h1M184 684h1M173 685h1M187 685h2" stroke="#000" stroke-width="1" fill="none" shape-rendering="crispEdges" transform="translate(0 0.5)"/>
<path d="M80.5 33.5H212.5V149.5H80.5ZM80.5 75.5H212.5M168.5 33.5V149.5M80.5 178.5H211.5V293.5H80.5ZM80.5 220.5H211.5M166.5 178.5V293.5M80.5 323.5H211.5V437.5H80.5ZM80.5 365.5H211.5M166.5 323.5V437.5M77.5 466.5H210.5V582.5H77.5ZM77.5 509.5H210.5M166.5 466.5V582.5M78.5 612.5H207.5V725.5H78.5ZM78.5 654.5H207.5M164.5 612.5V725.5M343.5 39.5H470.5V153.5H343.5ZM343.5 79.5H470.5M419.5 39.5V153.5M344.5 183.5H470.5V295.5H344.5ZM344.5 223.5H470.5M419.5 183.5V295.5M344.5 326.5H469.5V437.5H344.5ZM344.5 366.5H469.5M419.5 326.5V437.5M344.5 469.5H469.5V578.5H344.5ZM344.5 508.5H469.5M419.5 469.5V578.5M340.5 610.5H464.5V720.5H340.5ZM340.5 649.5H464.5M415.5 610.5V720.5" stroke="#000" stroke-width="1.25" fill="none"/>
<path d="M80 149.8v5M80 148.4h-5M89.97 149.8v3M80 139.75h-3M95.8 149.8v3M80 134.68h-3M99.94 149.8v3M80 131.09h-3M103.15 149.8v3M80 128.3h-3M105.78 149.8v3M80 126.03h-3M107.99 149.8v3M80 124.1h-3M109.91 149.8v3M80 122.44h-3M111.61 149.8v3M80 120.97h-3M113.12 149.8v5M80 119.65h-5M123.1 149.8v3M80 111h-3M128.93 149.8v3M80 105.93h-3M133.07 149.8v3M80 102.34h-3M136.28 149.8v3M80 99.55h-3M138.9 149.8v3M80 97.28h-3M141.12 149.8v3M80 95.35h-3M143.04 149.8v3M80 93.69h-3M144.73 149.8v3M80 92.22h-3M146.25 149.8v5M80 90.9h-5M156.22 149.8v3M80 82.25h-3M162.05 149.8v3M80 77.18h-3M166.19 149.8v3M80 73.59h-3M169.4 149.8v3M80 70.8h-3M172.03 149.8v3M80 68.53h-3M174.24 149.8v3M80 66.6h-3M176.16 149.8v3M80 64.94h-3M177.86 149.8v3M80 63.47h-3M179.38 149.8v5M80 62.15h-5M189.35 149.8v3M80 53.5h-3M195.18 149.8v3M80 48.43h-3M199.32 149.8v3M80 44.84h-3M202.53 149.8v3M80 42.05h-3M205.15 149.8v3M80 39.78h-3M207.37 149.8v3M80 37.85h-3M209.29 149.8v3M80 36.19h-3M210.98 149.8v3M80 34.72h-3M212.5 149.8v5M80 33.4h-5M80 293.7v5M80 292.3h-5M89.89 293.7v3M80 283.76h-3M95.67 293.7v3M80 278.76h-3M99.78 293.7v3M80 275.22h-3M102.96 293.7v3M80 272.47h-3M105.56 293.7v3M80 270.22h-3M107.76 293.7v3M80 268.32h-3M109.67 293.7v3M80 266.67h-3M111.35 293.7v3M80 265.22h-3M112.85 293.7v5M80 263.93h-5M122.74 293.7v3M80 255.38h-3M128.52 293.7v3M80 250.39h-3M132.63 293.7v3M80 246.84h-3M135.81 293.7v3M80 244.09h-3M138.41 293.7v3M80 241.84h-3M140.61 293.7v3M80 239.95h-3M142.52 293.7v3M80 238.3h-3M144.2 293.7v3M80 236.85h-3M145.7 293.7v5M80 235.55h-5M155.59 293.7v3M80 227.01h-3M161.37 293.7v3M80 222.01h-3M165.48 293.7v3M80 218.47h-3M168.66 293.7v3M80 215.72h-3M171.26 293.7v3M80 213.47h-3M173.46 293.7v3M80 211.57h-3M175.37 293.7v3M80 209.92h-3M177.05 293.7v3M80 208.47h-3M178.55 293.7v5M80 207.18h-5M188.44 293.7v3M80 198.63h-3M194.22 293.7v3M80 193.64h-3M198.33 293.7v3M80 190.09h-3M201.51 293.7v3M80 187.34h-3M204.11 293.7v3M80 185.09h-3M206.31 293.7v3M80 183.2h-3M208.22 293.7v3M80 181.55h-3M209.9 293.7v3M80 180.1h-3M211.4 293.7v5M80 178.8h-5M80 437.5v5M80 436.1h-5M89.87 437.5v3M80 427.6h-3M95.64 437.5v3M80 422.63h-3M99.73 437.5v3M80 419.11h-3M102.91 437.5v3M80 416.37h-3M105.5 437.5v3M80 414.14h-3M107.7 437.5v3M80 412.25h-3M109.6 437.5v3M80 410.61h-3M111.28 437.5v3M80 409.17h-3M112.78 437.5v5M80 407.88h-5M122.64 437.5v3M80 399.38h-3M128.41 437.5v3M80 394.41h-3M132.51 437.5v3M80 390.88h-3M135.68 437.5v3M80 388.15h-3M138.28 437.5v3M80 385.91h-3M140.47 437.5v3M80 384.02h-3M142.37 437.5v3M80 382.39h-3M144.05 437.5v3M80 380.94h-3M145.55 437.5v5M80 379.65h-5M155.42 437.5v3M80 371.15h-3M161.19 437.5v3M80 366.18h-3M165.28 437.5v3M80 362.66h-3M168.46 437.5v3M80 359.92h-3M171.05 437.5v3M80 357.69h-3M173.25 437.5v3M80 355.8h-3M175.15 437.5v3M80 354.16h-3M176.83 437.5v3M80 352.72h-3M178.32 437.5v5M80 351.43h-5M188.19 437.5v3M80 342.93h-3M193.96 437.5v3M80 337.96h-3M198.06 437.5v3M80 334.43h-3M201.23 437.5v3M80 331.7h-3M203.83 437.5v3M80 329.46h-3M206.02 437.5v3M80 327.57h-3M207.92 437.5v3M80 325.94h-3M209.6 437.5v3M80 324.49h-3M211.1 437.5v5M80 323.2h-5M77.7 582.5v5M77.7 581.1h-5M87.7 582.5v3M77.7 572.5h-3M93.55 582.5v3M77.7 567.47h-3M97.7 582.5v3M77.7 563.9h-3M100.92 582.5v3M77.7 561.13h-3M103.55 582.5v3M77.7 558.86h-3M105.78 582.5v3M77.7 556.95h-3M107.71 582.5v3M77.7 555.29h-3M109.4 582.5v3M77.7 553.83h-3M110.92 582.5v5M77.7 552.52h-5M120.93 582.5v3M77.7 543.92h-3M126.78 582.5v3M77.7 538.89h-3M130.93 582.5v3M77.7 535.32h-3M134.15 582.5v3M77.7 532.55h-3M136.78 582.5v3M77.7 530.29h-3M139 582.5v3M77.7 528.38h-3M140.93 582.5v3M77.7 526.72h-3M142.63 582.5v3M77.7 525.26h-3M144.15 582.5v5M77.7 523.95h-5M154.15 582.5v3M77.7 515.35h-3M160 582.5v3M77.7 510.32h-3M164.15 582.5v3M77.7 506.75h-3M167.37 582.5v3M77.7 503.98h-3M170 582.5v3M77.7 501.71h-3M172.23 582.5v3M77.7 499.8h-3M174.16 582.5v3M77.7 498.14h-3M175.85 582.5v3M77.7 496.68h-3M177.38 582.5v5M77.7 495.38h-5M187.38 582.5v3M77.7 486.77h-3M193.23 582.5v3M77.7 481.74h-3M197.38 582.5v3M77.7 478.17h-3M200.6 582.5v3M77.7 475.4h-3M203.23 582.5v3M77.7 473.14h-3M205.45 582.5v3M77.7 471.23h-3M207.38 582.5v3M77.7 469.57h-3M209.08 582.5v3M77.7 468.11h-3M210.6 582.5v5M77.7 466.8h-5M78 725.3v5M78 723.9h-5M87.78 725.3v3M78 715.51h-3M93.49 725.3v3M78 710.6h-3M97.55 725.3v3M78 707.12h-3M100.7 725.3v3M78 704.42h-3M103.27 725.3v3M78 702.21h-3M105.44 725.3v3M78 700.34h-3M107.33 725.3v3M78 698.73h-3M108.99 725.3v3M78 697.3h-3M110.47 725.3v5M78 696.02h-5M120.25 725.3v3M78 687.63h-3M125.97 725.3v3M78 682.73h-3M130.03 725.3v3M78 679.24h-3M133.17 725.3v3M78 676.54h-3M135.75 725.3v3M78 674.33h-3M137.92 725.3v3M78 672.47h-3M139.8 725.3v3M78 670.85h-3M141.46 725.3v3M78 669.43h-3M142.95 725.3v5M78 668.15h-5M152.73 725.3v3M78 659.76h-3M158.44 725.3v3M78 654.85h-3M162.5 725.3v3M78 651.37h-3M165.65 725.3v3M78 648.67h-3M168.22 725.3v3M78 646.46h-3M170.39 725.3v3M78 644.59h-3M172.28 725.3v3M78 642.98h-3M173.94 725.3v3M78 641.55h-3M175.43 725.3v5M78 640.27h-5M185.2 725.3v3M78 631.88h-3M190.92 725.3v3M78 626.98h-3M194.98 725.3v3M78 623.49h-3M198.12 725.3v3M78 620.79h-3M200.7 725.3v3M78 618.58h-3M202.87 725.3v3M78 616.72h-3M204.75 725.3v3M78 615.1h-3M206.41 725.3v3M78 613.68h-3M207.9 725.3v5M78 612.4h-5M343.5 153.7v5M343.5 152.3h-5M353.06 153.7v3M343.5 143.82h-3M358.65 153.7v3M343.5 138.86h-3M362.62 153.7v3M343.5 135.34h-3M365.69 153.7v3M343.5 132.61h-3M368.21 153.7v3M343.5 130.38h-3M370.33 153.7v3M343.5 128.49h-3M372.17 153.7v3M343.5 126.86h-3M373.8 153.7v3M343.5 125.41h-3M375.25 153.7v5M343.5 124.12h-5M384.81 153.7v3M343.5 115.64h-3M390.4 153.7v3M343.5 110.68h-3M394.37 153.7v3M343.5 107.16h-3M397.44 153.7v3M343.5 104.43h-3M399.96 153.7v3M343.5 102.2h-3M402.08 153.7v3M343.5 100.31h-3M403.92 153.7v3M343.5 98.68h-3M405.55 153.7v3M343.5 97.24h-3M407 153.7v5M343.5 95.95h-5M416.56 153.7v3M343.5 87.47h-3M422.15 153.7v3M343.5 82.51h-3M426.12 153.7v3M343.5 78.99h-3M429.19 153.7v3M343.5 76.26h-3M431.71 153.7v3M343.5 74.03h-3M433.83 153.7v3M343.5 72.14h-3M435.67 153.7v3M343.5 70.51h-3M437.3 153.7v3M343.5 69.06h-3M438.75 153.7v5M343.5 67.77h-5M448.31 153.7v3M343.5 59.29h-3M453.9 153.7v3M343.5 54.33h-3M457.87 153.7v3M343.5 50.81h-3M460.94 153.7v3M343.5 48.08h-3M463.46 153.7v3M343.5 45.85h-3M465.58 153.7v3M343.5 43.96h-3M467.42 153.7v3M343.5 42.33h-3M469.05 153.7v3M343.5 40.89h-3M470.5 153.7v5M343.5 39.6h-5M344 295.7v5M344 294.3h-5M353.51 295.7v3M344 285.97h-3M359.08 295.7v3M344 281.1h-3M363.03 295.7v3M344 277.64h-3M366.09 295.7v3M344 274.96h-3M368.59 295.7v3M344 272.76h-3M370.71 295.7v3M344 270.91h-3M372.54 295.7v3M344 269.31h-3M374.15 295.7v3M344 267.89h-3M375.6 295.7v5M344 266.62h-5M385.11 295.7v3M344 258.29h-3M390.68 295.7v3M344 253.42h-3M394.63 295.7v3M344 249.96h-3M397.69 295.7v3M344 247.28h-3M400.19 295.7v3M344 245.09h-3M402.31 295.7v3M344 243.24h-3M404.14 295.7v3M344 241.63h-3M405.75 295.7v3M344 240.22h-3M407.2 295.7v5M344 238.95h-5M416.71 295.7v3M344 230.62h-3M422.28 295.7v3M344 225.75h-3M426.23 295.7v3M344 222.29h-3M429.29 295.7v3M344 219.61h-3M431.79 295.7v3M344 217.41h-3M433.91 295.7v3M344 215.56h-3M435.74 295.7v3M344 213.96h-3M437.35 295.7v3M344 212.54h-3M438.8 295.7v5M344 211.28h-5M448.31 295.7v3M344 202.94h-3M453.88 295.7v3M344 198.07h-3M457.83 295.7v3M344 194.61h-3M460.89 295.7v3M344 191.93h-3M463.39 295.7v3M344 189.74h-3M465.51 295.7v3M344 187.89h-3M467.34 295.7v3M344 186.28h-3M468.95 295.7v3M344 184.87h-3M470.4 295.7v5M344 183.6h-5M344.6 437.3v5M344.6 435.9h-5M354.02 437.3v3M344.6 427.67h-3M359.53 437.3v3M344.6 422.86h-3M363.44 437.3v3M344.6 419.45h-3M366.48 437.3v3M344.6 416.8h-3M368.96 437.3v3M344.6 414.64h-3M371.05 437.3v3M344.6 412.81h-3M372.87 437.3v3M344.6 411.22h-3M374.47 437.3v3M344.6 409.83h-3M375.9 437.3v5M344.6 408.58h-5M385.32 437.3v3M344.6 400.35h-3M390.83 437.3v3M344.6 395.54h-3M394.74 437.3v3M344.6 392.12h-3M397.78 437.3v3M344.6 389.48h-3M400.26 437.3v3M344.6 387.31h-3M402.35 437.3v3M344.6 385.48h-3M404.17 437.3v3M344.6 383.9h-3M405.77 437.3v3M344.6 382.5h-3M407.2 437.3v5M344.6 381.25h-5M416.62 437.3v3M344.6 373.02h-3M422.13 437.3v3M344.6 368.21h-3M426.04 437.3v3M344.6 364.8h-3M429.08 437.3v3M344.6 362.15h-3M431.56 437.3v3M344.6 359.99h-3M433.65 437.3v3M344.6 358.16h-3M435.47 437.3v3M344.6 356.57h-3M437.07 437.3v3M344.6 355.18h-3M438.5 437.3v5M344.6 353.93h-5M447.92 437.3v3M344.6 345.7h-3M453.43 437.3v3M344.6 340.89h-3M457.34 437.3v3M344.6 337.47h-3M460.38 437.3v3M344.6 334.83h-3M462.86 437.3v3M344.6 332.66h-3M464.95 437.3v3M344.6 330.83h-3M466.77 437.3v3M344.6 329.25h-3M468.37 437.3v3M344.6 327.85h-3M469.8 437.3v5M344.6 326.6h-5M344.6 578.7v5M344.6 577.3h-5M354.01 578.7v3M344.6 569.19h-3M359.51 578.7v3M344.6 564.44h-3M363.41 578.7v3M344.6 561.07h-3M366.44 578.7v3M344.6 558.46h-3M368.92 578.7v3M344.6 556.33h-3M371.01 578.7v3M344.6 554.52h-3M372.82 578.7v3M344.6 552.96h-3M374.42 578.7v3M344.6 551.58h-3M375.85 578.7v5M344.6 550.35h-5M385.26 578.7v3M344.6 542.24h-3M390.76 578.7v3M344.6 537.49h-3M394.66 578.7v3M344.6 534.12h-3M397.69 578.7v3M344.6 531.51h-3M400.17 578.7v3M344.6 529.38h-3M402.26 578.7v3M344.6 527.57h-3M404.07 578.7v3M344.6 526.01h-3M405.67 578.7v3M344.6 524.63h-3M407.1 578.7v5M344.6 523.4h-5M416.51 578.7v3M344.6 515.29h-3M422.01 578.7v3M344.6 510.54h-3M425.91 578.7v3M344.6 507.17h-3M428.94 578.7v3M344.6 504.56h-3M431.42 578.7v3M344.6 502.43h-3M433.51 578.7v3M344.6 500.62h-3M435.32 578.7v3M344.6 499.06h-3M436.92 578.7v3M344.6 497.68h-3M438.35 578.7v5M344.6 496.45h-5M447.76 578.7v3M344.6 488.34h-3M453.26 578.7v3M344.6 483.59h-3M457.16 578.7v3M344.6 480.22h-3M460.19 578.7v3M344.6 477.61h-3M462.67 578.7v3M344.6 475.48h-3M464.76 578.7v3M344.6 473.67h-3M466.57 578.7v3M344.6 472.11h-3M468.17 578.7v3M344.6 470.73h-3M469.6 578.7v5M344.6 469.5h-5M340.8 720.3v5M340.8 718.9h-5M350.12 720.3v3M340.8 710.75h-3M355.57 720.3v3M340.8 705.98h-3M359.43 720.3v3M340.8 702.6h-3M362.43 720.3v3M340.8 699.98h-3M364.88 720.3v3M340.8 697.83h-3M366.96 720.3v3M340.8 696.02h-3M368.75 720.3v3M340.8 694.45h-3M370.33 720.3v3M340.8 693.06h-3M371.75 720.3v5M340.8 691.83h-5M381.07 720.3v3M340.8 683.67h-3M386.52 720.3v3M340.8 678.91h-3M390.38 720.3v3M340.8 675.52h-3M393.38 720.3v3M340.8 672.9h-3M395.83 720.3v3M340.8 670.76h-3M397.91 720.3v3M340.8 668.94h-3M399.7 720.3v3M340.8 667.37h-3M401.28 720.3v3M340.8 665.99h-3M402.7 720.3v5M340.8 664.75h-5M412.02 720.3v3M340.8 656.6h-3M417.47 720.3v3M340.8 651.83h-3M421.33 720.3v3M340.8 648.45h-3M424.33 720.3v3M340.8 645.83h-3M426.78 720.3v3M340.8 643.68h-3M428.86 720.3v3M340.8 641.87h-3M430.65 720.3v3M340.8 640.3h-3M432.23 720.3v3M340.8 638.91h-3M433.65 720.3v5M340.8 637.67h-5M442.97 720.3v3M340.8 629.52h-3M448.42 720.3v3M340.8 624.76h-3M452.28 720.3v3M340.8 621.37h-3M455.28 720.3v3M340.8 618.75h-3M457.73 720.3v3M340.8 616.61h-3M459.81 720.3v3M340.8 614.79h-3M461.6 720.3v3M340.8 613.22h-3M463.18 720.3v3M340.8 611.84h-3M464.6 720.3v5M340.8 610.6h-5" stroke="#000" stroke-width="1.25" fill="none"/>
<path d="M59 768.4L481 769.2" stroke="#000" stroke-width="2"/>
<text transform="translate(80.5 165.4) scale(0.8 1)" text-anchor="middle" font-family='"Liberation Sans", sans-serif' font-size="11" stroke="#000" stroke-width="0.3">10<tspan dx="1.5" dy="-6">0</tspan></text>
<text transform="translate(72 148.9) rotate(-90) scale(0.8 1)" text-anchor="middle" font-family='"Liberation Sans", sans-serif' font-size="11" stroke="#000" stroke-width="0.3">10<tspan dx="1.5" dy="-6">0</tspan></text>
<text transform="translate(113.62 165.4) scale(0.8 1)" text-anchor="middle" font-family='"Liberation Sans", sans-serif' font-size="11" stroke="#000" stroke-width="0.3">10<tspan dx="1.5" dy="-6">1</tspan></text>
<text transform="translate(72 120.15) rotate(-90) scale(0.8 1)" text-anchor="middle" font-family='"Liberation Sans", sans-serif' font-size="11" stroke="#000" stroke-width="0.3">10<tspan dx="1.5" dy="-6">1</tspan></text>
<text transform="translate(146.75 165.4) scale(0.8 1)" text-anchor="middle" font-family='"Liberation Sans", sans-serif' font-size="11" stroke="#000" stroke-width="0.3">10<tspan dx="1.5" dy="-6">2</tspan></text>
<text transform="translate(72 91.4) rotate(-90) scale(0.8 1)" text-anchor="middle" font-family='"Liberation Sans", sans-serif' font-size="11" stroke="#000" stroke-width="0.3">10<tspan dx="1.5" dy="-6">2</tspan></text>
<text transform="translate(179.88 165.4) scale(0.8 1)" text-anchor="middle" font-family='"Liberation Sans", sans-serif' font-size="11" stroke="#000" stroke-width="0.3">10<tspan dx="1.5" dy="-6">3</tspan></text>
<text transform="translate(72 62.65) rotate(-90) scale(0.8 1)" text-anchor="middle" font-family='"Liberation Sans", sans-serif' font-size="11" stroke="#000" stroke-width="0.3">10<tspan dx="1.5" dy="-6">3</tspan></text>
<text transform="translate(213 165.4) scale(0.8 1)" text-anchor="middle" font-family='"Liberation Sans", sans-serif' font-size="11" stroke="#000" stroke-width="0.3">10<tspan dx="1.5" dy="-6">4</tspan></text>
<text transform="translate(72 33.9) rotate(-90) scale(0.8 1)" text-anchor="middle" font-family='"Liberation Sans", sans-serif' font-size="11" stroke="#000" stroke-width="0.3">10<tspan dx="1.5" dy="-6">4</tspan></text>
<text transform="translate(83.3 47.7) scale(0.98 1)" font-family='"Liberation Serif", serif' font-size="13.3" fill="#111" stroke="#111" stroke-width="0.15">98.2%</text>
<text transform="translate(173.8 47.7) scale(0.98 1)" font-family='"Liberation Serif", serif' font-size="13.3" fill="#111" stroke="#111" stroke-width="0.15">0.2%</text>
<text transform="translate(87.3 137.1) scale(0.98 1)" font-family='"Liberation Serif", serif' font-size="13.3" fill="#111" stroke="#111" stroke-width="0.15">1.4%</text>
<text transform="translate(170.9 136.2) scale(0.98 1)" font-family='"Liberation Serif", serif' font-size="13.3" fill="#111" stroke="#111" stroke-width="0.15">0.2%</text>
<text transform="translate(80.5 310.4) scale(0.8 1)" text-anchor="middle" font-family='"Liberation Sans", sans-serif' font-size="11" stroke="#000" stroke-width="0.3">10<tspan dx="1.5" dy="-6">0</tspan></text>
<text transform="translate(72 292.8) rotate(-90) scale(0.8 1)" text-anchor="middle" font-family='"Liberation Sans", sans-serif' font-size="11" stroke="#000" stroke-width="0.3">10<tspan dx="1.5" dy="-6">0</tspan></text>
<text transform="translate(113.35 310.4) scale(0.8 1)" text-anchor="middle" font-family='"Liberation Sans", sans-serif' font-size="11" stroke="#000" stroke-width="0.3">10<tspan dx="1.5" dy="-6">1</tspan></text>
<text transform="translate(72 264.43) rotate(-90) scale(0.8 1)" text-anchor="middle" font-family='"Liberation Sans", sans-serif' font-size="11" stroke="#000" stroke-width="0.3">10<tspan dx="1.5" dy="-6">1</tspan></text>
<text transform="translate(146.2 310.4) scale(0.8 1)" text-anchor="middle" font-family='"Liberation Sans", sans-serif' font-size="11" stroke="#000" stroke-width="0.3">10<tspan dx="1.5" dy="-6">2</tspan></text>
<text transform="translate(72 236.05) rotate(-90) scale(0.8 1)" text-anchor="middle" font-family='"Liberation Sans", sans-serif' font-size="11" stroke="#000" stroke-width="0.3">10<tspan dx="1.5" dy="-6">2</tspan></text>
<text transform="translate(179.05 310.4) scale(0.8 1)" text-anchor="middle" font-family='"Liberation Sans", sans-serif' font-size="11" stroke="#000" stroke-width="0.3">10<tspan dx="1.5" dy="-6">3</tspan></text>
<text transform="translate(72 207.68) rotate(-90) scale(0.8 1)" text-anchor="middle" font-family='"Liberation Sans", sans-serif' font-size="11" stroke="#000" stroke-width="0.3">10<tspan dx="1.5" dy="-6">3</tspan></text>
<text transform="translate(211.9 310.4) scale(0.8 1)" text-anchor="middle" font-family='"Liberation Sans", sans-serif' font-size="11" stroke="#000" stroke-width="0.3">10<tspan dx="1.5" dy="-6">4</tspan></text>
<text transform="translate(72 179.3) rotate(-90) scale(0.8 1)" text-anchor="middle" font-family='"Liberation Sans", sans-serif' font-size="11" stroke="#000" stroke-width="0.3">10<tspan dx="1.5" dy="-6">4</tspan></text>
<text transform="translate(85.3 192.2) scale(0.98 1)" font-family='"Liberation Serif", serif' font-size="13.3" fill="#111" stroke="#111" stroke-width="0.15">98.2%</text>
<text transform="translate(173.9 194.5) scale(0.98 1)" font-family='"Liberation Serif", serif' font-size="13.3" fill="#111" stroke="#111" stroke-width="0.15">0.2%</text>
<text transform="translate(88.6 282.9) scale(0.98 1)" font-family='"Liberation Serif", serif' font-size="13.3" fill="#111" stroke="#111" stroke-width="0.15">1.1%</text>
<text transform="translate(170.4 283.5) scale(0.98 1)" font-family='"Liberation Serif", serif' font-size="13.3" fill="#111" stroke="#111" stroke-width="0.15">0.5%</text>
<text transform="translate(80.5 454.2) scale(0.8 1)" text-anchor="middle" font-family='"Liberation Sans", sans-serif' font-size="11" stroke="#000" stroke-width="0.3">10<tspan dx="1.5" dy="-6">0</tspan></text>
<text transform="translate(72 436.6) rotate(-90) scale(0.8 1)" text-anchor="middle" font-family='"Liberation Sans", sans-serif' font-size="11" stroke="#000" stroke-width="0.3">10<tspan dx="1.5" dy="-6">0</tspan></text>
<text transform="translate(113.28 454.2) scale(0.8 1)" text-anchor="middle" font-family='"Liberation Sans", sans-serif' font-size="11" stroke="#000" stroke-width="0.3">10<tspan dx="1.5" dy="-6">1</tspan></text>
<text transform="translate(72 408.38) rotate(-90) scale(0.8 1)" text-anchor="middle" font-family='"Liberation Sans", sans-serif' font-size="11" stroke="#000" stroke-width="0.3">10<tspan dx="1.5" dy="-6">1</tspan></text>
<text transform="translate(146.05 454.2) scale(0.8 1)" text-anchor="middle" font-family='"Liberation Sans", sans-serif' font-size="11" stroke="#000" stroke-width="0.3">10<tspan dx="1.5" dy="-6">2</tspan></text>
<text transform="translate(72 380.15) rotate(-90) scale(0.8 1)" text-anchor="middle" font-family='"Liberation Sans", sans-serif' font-size="11" stroke="#000" stroke-width="0.3">10<tspan dx="1.5" dy="-6">2</tspan></text>
<text transform="translate(178.82 454.2) scale(0.8 1)" text-anchor="middle" font-family='"Liberation Sans", sans-serif' font-size="11" stroke="#000" stroke-width="0.3">10<tspan dx="1.5" dy="-6">3</tspan></text>
<text transform="translate(72 351.93) rotate(-90) scale(0.8 1)" text-anchor="middle" font-family='"Liberation Sans", sans-serif' font-size="11" stroke="#000" stroke-width="0.3">10<tspan dx="1.5" dy="-6">3</tspan></text>
<text transform="translate(211.6 454.2) scale(0.8 1)" text-anchor="middle" font-family='"Liberation Sans", sans-serif' font-size="11" stroke="#000" stroke-width="0.3">10<tspan dx="1.5" dy="-6">4</tspan></text>
<text transform="translate(72 323.7) rotate(-90) scale(0.8 1)" text-anchor="middle" font-family='"Liberation Sans", sans-serif' font-size="11" stroke="#000" stroke-width="0.3">10<tspan dx="1.5" dy="-6">4</tspan></text>
<text transform="translate(85.5 336.6) scale(0.98 1)" font-family='"Liberation Serif", serif' font-size="13.3" fill="#111" stroke="#111" stroke-width="0.15">93.8%</text>
<text transform="translate(173.3 338.1) scale(0.98 1)" font-family='"Liberation Serif", serif' font-size="13.3" fill="#111" stroke="#111" stroke-width="0.15">0.1%</text>
<text transform="translate(87.4 429.1) scale(0.98 1)" font-family='"Liberation Serif", serif' font-size="13.3" fill="#111" stroke="#111" stroke-width="0.15">3.5%</text>
<text transform="translate(170.5 429.3) scale(0.98 1)" font-family='"Liberation Serif", serif' font-size="13.3" fill="#111" stroke="#111" stroke-width="0.15">2.6%</text>
<text transform="translate(78.2 599.2) scale(0.8 1)" text-anchor="middle" font-family='"Liberation Sans", sans-serif' font-size="11" stroke="#000" stroke-width="0.3">10<tspan dx="1.5" dy="-6">0</tspan></text>
<text transform="translate(69.7 581.6) rotate(-90) scale(0.8 1)" text-anchor="middle" font-family='"Liberation Sans", sans-serif' font-size="11" stroke="#000" stroke-width="0.3">10<tspan dx="1.5" dy="-6">0</tspan></text>
<text transform="translate(111.42 599.2) scale(0.8 1)" text-anchor="middle" font-family='"Liberation Sans", sans-serif' font-size="11" stroke="#000" stroke-width="0.3">10<tspan dx="1.5" dy="-6">1</tspan></text>
<text transform="translate(69.7 553.02) rotate(-90) scale(0.8 1)" text-anchor="middle" font-family='"Liberation Sans", sans-serif' font-size="11" stroke="#000" stroke-width="0.3">10<tspan dx="1.5" dy="-6">1</tspan></text>
<text transform="translate(144.65 599.2) scale(0.8 1)" text-anchor="middle" font-family='"Liberation Sans", sans-serif' font-size="11" stroke="#000" stroke-width="0.3">10<tspan dx="1.5" dy="-6">2</tspan></text>
<text transform="translate(69.7 524.45) rotate(-90) scale(0.8 1)" text-anchor="middle" font-family='"Liberation Sans", sans-serif' font-size="11" stroke="#000" stroke-width="0.3">10<tspan dx="1.5" dy="-6">2</tspan></text>
<text transform="translate(177.88 599.2) scale(0.8 1)" text-anchor="middle" font-family='"Liberation Sans", sans-serif' font-size="11" stroke="#000" stroke-width="0.3">10<tspan dx="1.5" dy="-6">3</tspan></text>
<text transform="translate(69.7 495.88) rotate(-90) scale(0.8 1)" text-anchor="middle" font-family='"Liberation Sans", sans-serif' font-size="11" stroke="#000" stroke-width="0.3">10<tspan dx="1.5" dy="-6">3</tspan></text>
<text transform="translate(211.1 599.2) scale(0.8 1)" text-anchor="middle" font-family='"Liberation Sans", sans-serif' font-size="11" stroke="#000" stroke-width="0.3">10<tspan dx="1.5" dy="-6">4</tspan></text>
<text transform="translate(69.7 467.3) rotate(-90) scale(0.8 1)" text-anchor="middle" font-family='"Liberation Sans", sans-serif' font-size="11" stroke="#000" stroke-width="0.3">10<tspan dx="1.5" dy="-6">4</tspan></text>
<text transform="translate(83.3 480.4) scale(0.98 1)" font-family='"Liberation Serif", serif' font-size="13.3" fill="#111" stroke="#111" stroke-width="0.15">88.0%</text>
<text transform="translate(173.9 481.7) scale(0.98 1)" font-family='"Liberation Serif", serif' font-size="13.3" fill="#111" stroke="#111" stroke-width="0.15">0.6%</text>
<text transform="translate(88.7 573.3) scale(0.98 1)" font-family='"Liberation Serif", serif' font-size="13.3" fill="#111" stroke="#111" stroke-width="0.15">3.2%</text>
<text transform="translate(168.9 577.1) scale(0.98 1)" font-family='"Liberation Serif", serif' font-size="13.3" fill="#111" stroke="#111" stroke-width="0.15">8.2%</text>
<text transform="translate(78.5 742) scale(0.8 1)" text-anchor="middle" font-family='"Liberation Sans", sans-serif' font-size="11" stroke="#000" stroke-width="0.3">10<tspan dx="1.5" dy="-6">0</tspan></text>
<text transform="translate(70 724.4) rotate(-90) scale(0.8 1)" text-anchor="middle" font-family='"Liberation Sans", sans-serif' font-size="11" stroke="#000" stroke-width="0.3">10<tspan dx="1.5" dy="-6">0</tspan></text>
<text transform="translate(110.97 742) scale(0.8 1)" text-anchor="middle" font-family='"Liberation Sans", sans-serif' font-size="11" stroke="#000" stroke-width="0.3">10<tspan dx="1.5" dy="-6">1</tspan></text>
<text transform="translate(70 696.52) rotate(-90) scale(0.8 1)" text-anchor="middle" font-family='"Liberation Sans", sans-serif' font-size="11" stroke="#000" stroke-width="0.3">10<tspan dx="1.5" dy="-6">1</tspan></text>
<text transform="translate(143.45 742) scale(0.8 1)" text-anchor="middle" font-family='"Liberation Sans", sans-serif' font-size="11" stroke="#000" stroke-width="0.3">10<tspan dx="1.5" dy="-6">2</tspan></text>
<text transform="translate(70 668.65) rotate(-90) scale(0.8 1)" text-anchor="middle" font-family='"Liberation Sans", sans-serif' font-size="11" stroke="#000" stroke-width="0.3">10<tspan dx="1.5" dy="-6">2</tspan></text>
<text transform="translate(175.93 742) scale(0.8 1)" text-anchor="middle" font-family='"Liberation Sans", sans-serif' font-size="11" stroke="#000" stroke-width="0.3">10<tspan dx="1.5" dy="-6">3</tspan></text>
<text transform="translate(70 640.77) rotate(-90) scale(0.8 1)" text-anchor="middle" font-family='"Liberation Sans", sans-serif' font-size="11" stroke="#000" stroke-width="0.3">10<tspan dx="1.5" dy="-6">3</tspan></text>
<text transform="translate(208.4 742) scale(0.8 1)" text-anchor="middle" font-family='"Liberation Sans", sans-serif' font-size="11" stroke="#000" stroke-width="0.3">10<tspan dx="1.5" dy="-6">4</tspan></text>
<text transform="translate(70 612.9) rotate(-90) scale(0.8 1)" text-anchor="middle" font-family='"Liberation Sans", sans-serif' font-size="11" stroke="#000" stroke-width="0.3">10<tspan dx="1.5" dy="-6">4</tspan></text>
<text transform="translate(82.9 627.5) scale(0.98 1)" font-family='"Liberation Serif", serif' font-size="13.3" fill="#111" stroke="#111" stroke-width="0.15">82.3%</text>
<text transform="translate(171.5 627.3) scale(0.98 1)" font-family='"Liberation Serif", serif' font-size="13.3" fill="#111" stroke="#111" stroke-width="0.15">2.4%</text>
<text transform="translate(85.8 716) scale(0.98 1)" font-family='"Liberation Serif", serif' font-size="13.3" fill="#111" stroke="#111" stroke-width="0.15">3.0%</text>
<text transform="translate(167.9 717.1) scale(0.98 1)" font-family='"Liberation Serif", serif' font-size="13.3" fill="#111" stroke="#111" stroke-width="0.15">12.3%</text>
<text transform="translate(344 170.4) scale(0.8 1)" text-anchor="middle" font-family='"Liberation Sans", sans-serif' font-size="11" stroke="#000" stroke-width="0.3">10<tspan dx="1.5" dy="-6">0</tspan></text>
<text transform="translate(335.5 152.8) rotate(-90) scale(0.8 1)" text-anchor="middle" font-family='"Liberation Sans", sans-serif' font-size="11" stroke="#000" stroke-width="0.3">10<tspan dx="1.5" dy="-6">0</tspan></text>
<text transform="translate(375.75 170.4) scale(0.8 1)" text-anchor="middle" font-family='"Liberation Sans", sans-serif' font-size="11" stroke="#000" stroke-width="0.3">10<tspan dx="1.5" dy="-6">1</tspan></text>
<text transform="translate(335.5 124.62) rotate(-90) scale(0.8 1)" text-anchor="middle" font-family='"Liberation Sans", sans-serif' font-size="11" stroke="#000" stroke-width="0.3">10<tspan dx="1.5" dy="-6">1</tspan></text>
<text transform="translate(407.5 170.4) scale(0.8 1)" text-anchor="middle" font-family='"Liberation Sans", sans-serif' font-size="11" stroke="#000" stroke-width="0.3">10<tspan dx="1.5" dy="-6">2</tspan></text>
<text transform="translate(335.5 96.45) rotate(-90) scale(0.8 1)" text-anchor="middle" font-family='"Liberation Sans", sans-serif' font-size="11" stroke="#000" stroke-width="0.3">10<tspan dx="1.5" dy="-6">2</tspan></text>
<text transform="translate(439.25 170.4) scale(0.8 1)" text-anchor="middle" font-family='"Liberation Sans", sans-serif' font-size="11" stroke="#000" stroke-width="0.3">10<tspan dx="1.5" dy="-6">3</tspan></text>
<text transform="translate(335.5 68.27) rotate(-90) scale(0.8 1)" text-anchor="middle" font-family='"Liberation Sans", sans-serif' font-size="11" stroke="#000" stroke-width="0.3">10<tspan dx="1.5" dy="-6">3</tspan></text>
<text transform="translate(471 170.4) scale(0.8 1)" text-anchor="middle" font-family='"Liberation Sans", sans-serif' font-size="11" stroke="#000" stroke-width="0.3">10<tspan dx="1.5" dy="-6">4</tspan></text>
<text transform="translate(335.5 40.1) rotate(-90) scale(0.8 1)" text-anchor="middle" font-family='"Liberation Sans", sans-serif' font-size="11" stroke="#000" stroke-width="0.3">10<tspan dx="1.5" dy="-6">4</tspan></text>
<text transform="translate(347.1 52.1) scale(0.98 1)" font-family='"Liberation Serif", serif' font-size="13.3" fill="#111" stroke="#111" stroke-width="0.15">97.9%</text>
<text transform="translate(424.1 52.3) scale(0.98 1)" font-family='"Liberation Serif", serif' font-size="13.3" fill="#111" stroke="#111" stroke-width="0.15">1.0%</text>
<text transform="translate(350.7 142.5) scale(0.98 1)" font-family='"Liberation Serif", serif' font-size="13.3" fill="#111" stroke="#111" stroke-width="0.15">0.8%</text>
<text transform="translate(423.5 143.1) scale(0.98 1)" font-family='"Liberation Serif", serif' font-size="13.3" fill="#111" stroke="#111" stroke-width="0.15">0.3%</text>
<text transform="translate(344.5 312.4) scale(0.8 1)" text-anchor="middle" font-family='"Liberation Sans", sans-serif' font-size="11" stroke="#000" stroke-width="0.3">10<tspan dx="1.5" dy="-6">0</tspan></text>
<text transform="translate(336 294.8) rotate(-90) scale(0.8 1)" text-anchor="middle" font-family='"Liberation Sans", sans-serif' font-size="11" stroke="#000" stroke-width="0.3">10<tspan dx="1.5" dy="-6">0</tspan></text>
<text transform="translate(376.1 312.4) scale(0.8 1)" text-anchor="middle" font-family='"Liberation Sans", sans-serif' font-size="11" stroke="#000" stroke-width="0.3">10<tspan dx="1.5" dy="-6">1</tspan></text>
<text transform="translate(336 267.12) rotate(-90) scale(0.8 1)" text-anchor="middle" font-family='"Liberation Sans", sans-serif' font-size="11" stroke="#000" stroke-width="0.3">10<tspan dx="1.5" dy="-6">1</tspan></text>
<text transform="translate(407.7 312.4) scale(0.8 1)" text-anchor="middle" font-family='"Liberation Sans", sans-serif' font-size="11" stroke="#000" stroke-width="0.3">10<tspan dx="1.5" dy="-6">2</tspan></text>
<text transform="translate(336 239.45) rotate(-90) scale(0.8 1)" text-anchor="middle" font-family='"Liberation Sans", sans-serif' font-size="11" stroke="#000" stroke-width="0.3">10<tspan dx="1.5" dy="-6">2</tspan></text>
<text transform="translate(439.3 312.4) scale(0.8 1)" text-anchor="middle" font-family='"Liberation Sans", sans-serif' font-size="11" stroke="#000" stroke-width="0.3">10<tspan dx="1.5" dy="-6">3</tspan></text>
<text transform="translate(336 211.78) rotate(-90) scale(0.8 1)" text-anchor="middle" font-family='"Liberation Sans", sans-serif' font-size="11" stroke="#000" stroke-width="0.3">10<tspan dx="1.5" dy="-6">3</tspan></text>
<text transform="translate(470.9 312.4) scale(0.8 1)" text-anchor="middle" font-family='"Liberation Sans", sans-serif' font-size="11" stroke="#000" stroke-width="0.3">10<tspan dx="1.5" dy="-6">4</tspan></text>
<text transform="translate(336 184.1) rotate(-90) scale(0.8 1)" text-anchor="middle" font-family='"Liberation Sans", sans-serif' font-size="11" stroke="#000" stroke-width="0.3">10<tspan dx="1.5" dy="-6">4</tspan></text>
<text transform="translate(348.7 197.1) scale(0.98 1)" font-family='"Liberation Serif", serif' font-size="13.3" fill="#111" stroke="#111" stroke-width="0.15">97.9%</text>
<text transform="translate(429.9 198) scale(0.98 1)" font-family='"Liberation Serif", serif' font-size="13.3" fill="#111" stroke="#111" stroke-width="0.15">1.0%</text>
<text transform="translate(351.7 284.3) scale(0.98 1)" font-family='"Liberation Serif", serif' font-size="13.3" fill="#111" stroke="#111" stroke-width="0.15">0.6%</text>
<text transform="translate(426.2 284.3) scale(0.98 1)" font-family='"Liberation Serif", serif' font-size="13.3" fill="#111" stroke="#111" stroke-width="0.15">0.5%</text>
<text transform="translate(345.1 454) scale(0.8 1)" text-anchor="middle" font-family='"Liberation Sans", sans-serif' font-size="11" stroke="#000" stroke-width="0.3">10<tspan dx="1.5" dy="-6">0</tspan></text>
<text transform="translate(336.6 436.4) rotate(-90) scale(0.8 1)" text-anchor="middle" font-family='"Liberation Sans", sans-serif' font-size="11" stroke="#000" stroke-width="0.3">10<tspan dx="1.5" dy="-6">0</tspan></text>
<text transform="translate(376.4 454) scale(0.8 1)" text-anchor="middle" font-family='"Liberation Sans", sans-serif' font-size="11" stroke="#000" stroke-width="0.3">10<tspan dx="1.5" dy="-6">1</tspan></text>
<text transform="translate(336.6 409.08) rotate(-90) scale(0.8 1)" text-anchor="middle" font-family='"Liberation Sans", sans-serif' font-size="11" stroke="#000" stroke-width="0.3">10<tspan dx="1.5" dy="-6">1</tspan></text>
<text transform="translate(407.7 454) scale(0.8 1)" text-anchor="middle" font-family='"Liberation Sans", sans-serif' font-size="11" stroke="#000" stroke-width="0.3">10<tspan dx="1.5" dy="-6">2</tspan></text>
<text transform="translate(336.6 381.75) rotate(-90) scale(0.8 1)" text-anchor="middle" font-family='"Liberation Sans", sans-serif' font-size="11" stroke="#000" stroke-width="0.3">10<tspan dx="1.5" dy="-6">2</tspan></text>
<text transform="translate(439 454) scale(0.8 1)" text-anchor="middle" font-family='"Liberation Sans", sans-serif' font-size="11" stroke="#000" stroke-width="0.3">10<tspan dx="1.5" dy="-6">3</tspan></text>
<text transform="translate(336.6 354.43) rotate(-90) scale(0.8 1)" text-anchor="middle" font-family='"Liberation Sans", sans-serif' font-size="11" stroke="#000" stroke-width="0.3">10<tspan dx="1.5" dy="-6">3</tspan></text>
<text transform="translate(470.3 454) scale(0.8 1)" text-anchor="middle" font-family='"Liberation Sans", sans-serif' font-size="11" stroke="#000" stroke-width="0.3">10<tspan dx="1.5" dy="-6">4</tspan></text>
<text transform="translate(336.6 327.1) rotate(-90) scale(0.8 1)" text-anchor="middle" font-family='"Liberation Sans", sans-serif' font-size="11" stroke="#000" stroke-width="0.3">10<tspan dx="1.5" dy="-6">4</tspan></text>
<text transform="translate(348.7 340.4) scale(0.98 1)" font-family='"Liberation Serif", serif' font-size="13.3" fill="#111" stroke="#111" stroke-width="0.15">92.8%</text>
<text transform="translate(426.1 341.2) scale(0.98 1)" font-family='"Liberation Serif", serif' font-size="13.3" fill="#111" stroke="#111" stroke-width="0.15">1.3%</text>
<text transform="translate(353.5 427.3) scale(0.98 1)" font-family='"Liberation Serif", serif' font-size="13.3" fill="#111" stroke="#111" stroke-width="0.15">2.4%</text>
<text transform="translate(425.8 429.3) scale(0.98 1)" font-family='"Liberation Serif", serif' font-size="13.3" fill="#111" stroke="#111" stroke-width="0.15">3.5%</text>
<text transform="translate(345.1 595.4) scale(0.8 1)" text-anchor="middle" font-family='"Liberation Sans", sans-serif' font-size="11" stroke="#000" stroke-width="0.3">10<tspan dx="1.5" dy="-6">0</tspan></text>
<text transform="translate(336.6 577.8) rotate(-90) scale(0.8 1)" text-anchor="middle" font-family='"Liberation Sans", sans-serif' font-size="11" stroke="#000" stroke-width="0.3">10<tspan dx="1.5" dy="-6">0</tspan></text>
<text transform="translate(376.35 595.4) scale(0.8 1)" text-anchor="middle" font-family='"Liberation Sans", sans-serif' font-size="11" stroke="#000" stroke-width="0.3">10<tspan dx="1.5" dy="-6">1</tspan></text>
<text transform="translate(336.6 550.85) rotate(-90) scale(0.8 1)" text-anchor="middle" font-family='"Liberation Sans", sans-serif' font-size="11" stroke="#000" stroke-width="0.3">10<tspan dx="1.5" dy="-6">1</tspan></text>
<text transform="translate(407.6 595.4) scale(0.8 1)" text-anchor="middle" font-family='"Liberation Sans", sans-serif' font-size="11" stroke="#000" stroke-width="0.3">10<tspan dx="1.5" dy="-6">2</tspan></text>
<text transform="translate(336.6 523.9) rotate(-90) scale(0.8 1)" text-anchor="middle" font-family='"Liberation Sans", sans-serif' font-size="11" stroke="#000" stroke-width="0.3">10<tspan dx="1.5" dy="-6">2</tspan></text>
<text transform="translate(438.85 595.4) scale(0.8 1)" text-anchor="middle" font-family='"Liberation Sans", sans-serif' font-size="11" stroke="#000" stroke-width="0.3">10<tspan dx="1.5" dy="-6">3</tspan></text>
<text transform="translate(336.6 496.95) rotate(-90) scale(0.8 1)" text-anchor="middle" font-family='"Liberation Sans", sans-serif' font-size="11" stroke="#000" stroke-width="0.3">10<tspan dx="1.5" dy="-6">3</tspan></text>
<text transform="translate(470.1 595.4) scale(0.8 1)" text-anchor="middle" font-family='"Liberation Sans", sans-serif' font-size="11" stroke="#000" stroke-width="0.3">10<tspan dx="1.5" dy="-6">4</tspan></text>
<text transform="translate(336.6 470) rotate(-90) scale(0.8 1)" text-anchor="middle" font-family='"Liberation Sans", sans-serif' font-size="11" stroke="#000" stroke-width="0.3">10<tspan dx="1.5" dy="-6">4</tspan></text>
<text transform="translate(349.1 483.3) scale(0.98 1)" font-family='"Liberation Serif", serif' font-size="13.3" fill="#111" stroke="#111" stroke-width="0.15">83.3%</text>
<text transform="translate(427.8 481.5) scale(0.98 1)" font-family='"Liberation Serif", serif' font-size="13.3" fill="#111" stroke="#111" stroke-width="0.15">4.4%</text>
<text transform="translate(350.9 569.9) scale(0.98 1)" font-family='"Liberation Serif", serif' font-size="13.3" fill="#111" stroke="#111" stroke-width="0.15">2.0%</text>
<text transform="translate(424.3 569.9) scale(0.98 1)" font-family='"Liberation Serif", serif' font-size="13.3" fill="#111" stroke="#111" stroke-width="0.15">10.3%</text>
<text transform="translate(341.3 737) scale(0.8 1)" text-anchor="middle" font-family='"Liberation Sans", sans-serif' font-size="11" stroke="#000" stroke-width="0.3">10<tspan dx="1.5" dy="-6">0</tspan></text>
<text transform="translate(332.8 719.4) rotate(-90) scale(0.8 1)" text-anchor="middle" font-family='"Liberation Sans", sans-serif' font-size="11" stroke="#000" stroke-width="0.3">10<tspan dx="1.5" dy="-6">0</tspan></text>
<text transform="translate(372.25 737) scale(0.8 1)" text-anchor="middle" font-family='"Liberation Sans", sans-serif' font-size="11" stroke="#000" stroke-width="0.3">10<tspan dx="1.5" dy="-6">1</tspan></text>
<text transform="translate(332.8 692.33) rotate(-90) scale(0.8 1)" text-anchor="middle" font-family='"Liberation Sans", sans-serif' font-size="11" stroke="#000" stroke-width="0.3">10<tspan dx="1.5" dy="-6">1</tspan></text>
<text transform="translate(403.2 737) scale(0.8 1)" text-anchor="middle" font-family='"Liberation Sans", sans-serif' font-size="11" stroke="#000" stroke-width="0.3">10<tspan dx="1.5" dy="-6">2</tspan></text>
<text transform="translate(332.8 665.25) rotate(-90) scale(0.8 1)" text-anchor="middle" font-family='"Liberation Sans", sans-serif' font-size="11" stroke="#000" stroke-width="0.3">10<tspan dx="1.5" dy="-6">2</tspan></text>
<text transform="translate(434.15 737) scale(0.8 1)" text-anchor="middle" font-family='"Liberation Sans", sans-serif' font-size="11" stroke="#000" stroke-width="0.3">10<tspan dx="1.5" dy="-6">3</tspan></text>
<text transform="translate(332.8 638.17) rotate(-90) scale(0.8 1)" text-anchor="middle" font-family='"Liberation Sans", sans-serif' font-size="11" stroke="#000" stroke-width="0.3">10<tspan dx="1.5" dy="-6">3</tspan></text>
<text transform="translate(465.1 737) scale(0.8 1)" text-anchor="middle" font-family='"Liberation Sans", sans-serif' font-size="11" stroke="#000" stroke-width="0.3">10<tspan dx="1.5" dy="-6">4</tspan></text>
<text transform="translate(332.8 611.1) rotate(-90) scale(0.8 1)" text-anchor="middle" font-family='"Liberation Sans", sans-serif' font-size="11" stroke="#000" stroke-width="0.3">10<tspan dx="1.5" dy="-6">4</tspan></text>
<text transform="translate(343.3 622.1) scale(0.98 1)" font-family='"Liberation Serif", serif' font-size="13.3" fill="#111" stroke="#111" stroke-width="0.15">75.0%</text>
<text transform="translate(426.4 624.5) scale(0.98 1)" font-family='"Liberation Serif", serif' font-size="13.3" fill="#111" stroke="#111" stroke-width="0.15">7.9%</text>
<text transform="translate(347.3 712.7) scale(0.98 1)" font-family='"Liberation Serif", serif' font-size="13.3" fill="#111" stroke="#111" stroke-width="0.15">2.9%</text>
<text transform="translate(422.4 712.5) scale(0.98 1)" font-family='"Liberation Serif", serif' font-size="13.3" fill="#111" stroke="#111" stroke-width="0.15">14.2%</text>
<text transform="translate(43.4 92.85) rotate(-90) scale(0.91 1)" text-anchor="middle" font-family='"Liberation Serif", serif' font-weight="bold" stroke="#000" stroke-width="0.3" font-size="17.5">DiOC<tspan font-size="11.5" dy="3.7">6</tspan><tspan dy="-3.7">(3)</tspan></text>
<text transform="translate(43.4 239.3) rotate(-90) scale(0.91 1)" text-anchor="middle" font-family='"Liberation Serif", serif' font-weight="bold" stroke="#000" stroke-width="0.3" font-size="17.5">DiOC<tspan font-size="11.5" dy="3.7">6</tspan><tspan dy="-3.7">(3)</tspan></text>
<text transform="translate(43.4 380.5) rotate(-90) scale(0.91 1)" text-anchor="middle" font-family='"Liberation Serif", serif' font-weight="bold" stroke="#000" stroke-width="0.3" font-size="17.5">DiOC<tspan font-size="11.5" dy="3.7">6</tspan><tspan dy="-3.7">(3)</tspan></text>
<text transform="translate(43.4 526) rotate(-90) scale(0.91 1)" text-anchor="middle" font-family='"Liberation Serif", serif' font-weight="bold" stroke="#000" stroke-width="0.3" font-size="17.5">DiOC<tspan font-size="11.5" dy="3.7">6</tspan><tspan dy="-3.7">(3)</tspan></text>
<text transform="translate(43.4 670.3) rotate(-90) scale(0.91 1)" text-anchor="middle" font-family='"Liberation Serif", serif' font-weight="bold" stroke="#000" stroke-width="0.3" font-size="17.5">DiOC<tspan font-size="11.5" dy="3.7">6</tspan><tspan dy="-3.7">(3)</tspan></text>
<text transform="translate(308 90.85) rotate(-90) scale(0.98 1)" text-anchor="middle" font-family='"Liberation Serif", serif' font-weight="bold" stroke="#000" stroke-width="0.3" font-size="16.5">NAO</text>
<text transform="translate(308 233.8) rotate(-90) scale(0.98 1)" text-anchor="middle" font-family='"Liberation Serif", serif' font-weight="bold" stroke="#000" stroke-width="0.3" font-size="16.5">NAO</text>
<text transform="translate(308 377.5) rotate(-90) scale(0.98 1)" text-anchor="middle" font-family='"Liberation Serif", serif' font-weight="bold" stroke="#000" stroke-width="0.3" font-size="16.5">NAO</text>
<text transform="translate(308 518.7) rotate(-90) scale(0.98 1)" text-anchor="middle" font-family='"Liberation Serif", serif' font-weight="bold" stroke="#000" stroke-width="0.3" font-size="16.5">NAO</text>
<text transform="translate(308 659.5) rotate(-90) scale(0.98 1)" text-anchor="middle" font-family='"Liberation Serif", serif' font-weight="bold" stroke="#000" stroke-width="0.3" font-size="16.5">NAO</text>
<text transform="translate(498.5 98.1) scale(0.93 1)" font-family='"Liberation Serif", serif' font-weight="bold" stroke="#000" stroke-width="0.3" font-size="16.2">0 h</text>
<text transform="translate(496.6 242.2) scale(0.93 1)" font-family='"Liberation Serif", serif' font-weight="bold" stroke="#000" stroke-width="0.3" font-size="16.2">2 h</text>
<text transform="translate(497.1 383.6) scale(0.93 1)" font-family='"Liberation Serif", serif' font-weight="bold" stroke="#000" stroke-width="0.3" font-size="16.2">4 h</text>
<text transform="translate(497.1 527.5) scale(0.93 1)" font-family='"Liberation Serif", serif' font-weight="bold" stroke="#000" stroke-width="0.3" font-size="16.2">8 h</text>
<text transform="translate(487.7 664.7) scale(0.93 1)" font-family='"Liberation Serif", serif' font-weight="bold" stroke="#000" stroke-width="0.3" font-size="16.2">24 h</text>
<text transform="translate(0.7 14.8) scale(0.96 1)" font-family='"Liberation Serif", serif' font-weight="bold" stroke="#000" stroke-width="0.3" font-size="20.5">A</text>
<text transform="translate(244.5 15.9) scale(0.96 1)" font-family='"Liberation Serif", serif' font-weight="bold" stroke="#000" stroke-width="0.3" font-size="20.5">APO-S</text>
<text transform="translate(240.3 788.7) scale(0.96 1)" font-family='"Liberation Serif", serif' font-weight="bold" stroke="#000" stroke-width="0.3" font-size="16">HE (ROS)</text>
</svg>
</body></html>
